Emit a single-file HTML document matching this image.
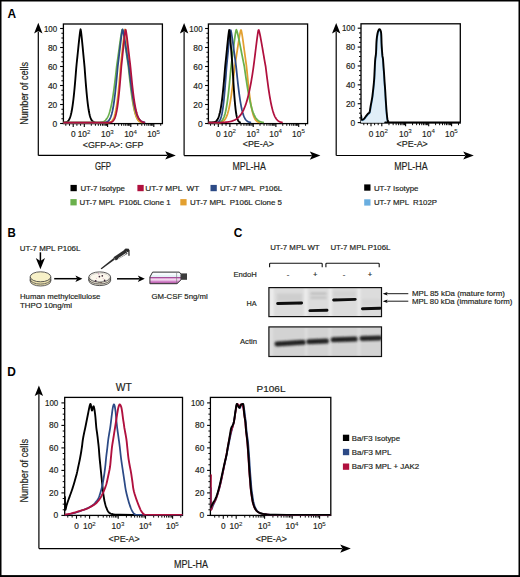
<!DOCTYPE html>
<html><head><meta charset="utf-8"><style>html,body{margin:0;padding:0;background:#fff;width:520px;height:577px;overflow:hidden}svg text{font-family:"Liberation Sans", sans-serif}</style></head><body>
<svg width="520" height="577" viewBox="0 0 520 577" style="display:block">
<g font-family='"Liberation Sans", sans-serif'>
<rect x="0.00" y="0.00" width="520.00" height="577.00" fill="#fff" stroke="none" stroke-width="1"/>
<text x="7.40" y="17.70" font-size="12" text-anchor="start" font-weight="bold" fill="#000" textLength="8.60" lengthAdjust="spacingAndGlyphs" xml:space="preserve">A</text>
<line x1="38.30" y1="31.40" x2="38.30" y2="155.40" stroke="#000" stroke-width="1.2"/>
<polygon points="38.30,22.80 42.50,33.40 38.30,31.10 34.10,33.40" fill="#000" stroke="none" stroke-width="1"/>
<line x1="38.30" y1="155.40" x2="167.20" y2="155.40" stroke="#000" stroke-width="1.2"/>
<polygon points="175.80,155.40 165.20,151.30 167.50,155.40 165.20,159.50" fill="#000" stroke="none" stroke-width="1"/>
<rect x="63.40" y="24.00" width="99.00" height="99.60" fill="#fff" stroke="#000" stroke-width="1.3"/>
<line x1="60.10" y1="123.50" x2="63.40" y2="123.50" stroke="#000" stroke-width="1.1"/>
<text x="57.20" y="126.55" font-size="8.4" text-anchor="end" fill="#231f20" stroke="#231f20" stroke-width="0.18" textLength="4.70" lengthAdjust="spacingAndGlyphs" xml:space="preserve">0</text>
<line x1="61.40" y1="118.75" x2="63.40" y2="118.75" stroke="#000" stroke-width="1.0"/>
<line x1="61.40" y1="114.00" x2="63.40" y2="114.00" stroke="#000" stroke-width="1.0"/>
<line x1="61.40" y1="109.25" x2="63.40" y2="109.25" stroke="#000" stroke-width="1.0"/>
<line x1="60.10" y1="104.50" x2="63.40" y2="104.50" stroke="#000" stroke-width="1.1"/>
<text x="57.20" y="107.55" font-size="8.4" text-anchor="end" fill="#231f20" stroke="#231f20" stroke-width="0.18" textLength="9.30" lengthAdjust="spacingAndGlyphs" xml:space="preserve">20</text>
<line x1="61.40" y1="99.75" x2="63.40" y2="99.75" stroke="#000" stroke-width="1.0"/>
<line x1="61.40" y1="95.00" x2="63.40" y2="95.00" stroke="#000" stroke-width="1.0"/>
<line x1="61.40" y1="90.25" x2="63.40" y2="90.25" stroke="#000" stroke-width="1.0"/>
<line x1="60.10" y1="85.50" x2="63.40" y2="85.50" stroke="#000" stroke-width="1.1"/>
<text x="57.20" y="88.55" font-size="8.4" text-anchor="end" fill="#231f20" stroke="#231f20" stroke-width="0.18" textLength="9.30" lengthAdjust="spacingAndGlyphs" xml:space="preserve">40</text>
<line x1="61.40" y1="80.75" x2="63.40" y2="80.75" stroke="#000" stroke-width="1.0"/>
<line x1="61.40" y1="76.00" x2="63.40" y2="76.00" stroke="#000" stroke-width="1.0"/>
<line x1="61.40" y1="71.25" x2="63.40" y2="71.25" stroke="#000" stroke-width="1.0"/>
<line x1="60.10" y1="66.50" x2="63.40" y2="66.50" stroke="#000" stroke-width="1.1"/>
<text x="57.20" y="69.55" font-size="8.4" text-anchor="end" fill="#231f20" stroke="#231f20" stroke-width="0.18" textLength="9.30" lengthAdjust="spacingAndGlyphs" xml:space="preserve">60</text>
<line x1="61.40" y1="61.75" x2="63.40" y2="61.75" stroke="#000" stroke-width="1.0"/>
<line x1="61.40" y1="57.00" x2="63.40" y2="57.00" stroke="#000" stroke-width="1.0"/>
<line x1="61.40" y1="52.25" x2="63.40" y2="52.25" stroke="#000" stroke-width="1.0"/>
<line x1="60.10" y1="47.50" x2="63.40" y2="47.50" stroke="#000" stroke-width="1.1"/>
<text x="57.20" y="50.55" font-size="8.4" text-anchor="end" fill="#231f20" stroke="#231f20" stroke-width="0.18" textLength="9.30" lengthAdjust="spacingAndGlyphs" xml:space="preserve">80</text>
<line x1="61.40" y1="42.75" x2="63.40" y2="42.75" stroke="#000" stroke-width="1.0"/>
<line x1="61.40" y1="38.00" x2="63.40" y2="38.00" stroke="#000" stroke-width="1.0"/>
<line x1="61.40" y1="33.25" x2="63.40" y2="33.25" stroke="#000" stroke-width="1.0"/>
<line x1="60.10" y1="28.50" x2="63.40" y2="28.50" stroke="#000" stroke-width="1.1"/>
<text x="57.20" y="31.55" font-size="8.4" text-anchor="end" fill="#231f20" stroke="#231f20" stroke-width="0.18" textLength="13.30" lengthAdjust="spacingAndGlyphs" xml:space="preserve">100</text>
<line x1="73.20" y1="123.60" x2="73.20" y2="126.90" stroke="#000" stroke-width="1.1"/>
<line x1="69.50" y1="123.60" x2="69.50" y2="125.80" stroke="#000" stroke-width="0.95"/>
<line x1="65.80" y1="123.60" x2="65.80" y2="125.80" stroke="#000" stroke-width="0.95"/>
<line x1="76.90" y1="123.60" x2="76.90" y2="125.80" stroke="#000" stroke-width="0.95"/>
<line x1="80.60" y1="123.60" x2="80.60" y2="125.80" stroke="#000" stroke-width="0.95"/>
<line x1="84.30" y1="123.60" x2="84.30" y2="126.90" stroke="#000" stroke-width="1.1"/>
<line x1="91.31" y1="123.60" x2="91.31" y2="125.80" stroke="#000" stroke-width="0.95"/>
<line x1="95.42" y1="123.60" x2="95.42" y2="125.80" stroke="#000" stroke-width="0.95"/>
<line x1="98.33" y1="123.60" x2="98.33" y2="125.80" stroke="#000" stroke-width="0.95"/>
<line x1="100.59" y1="123.60" x2="100.59" y2="125.80" stroke="#000" stroke-width="0.95"/>
<line x1="102.43" y1="123.60" x2="102.43" y2="125.80" stroke="#000" stroke-width="0.95"/>
<line x1="103.99" y1="123.60" x2="103.99" y2="125.80" stroke="#000" stroke-width="0.95"/>
<line x1="105.34" y1="123.60" x2="105.34" y2="125.80" stroke="#000" stroke-width="0.95"/>
<line x1="106.53" y1="123.60" x2="106.53" y2="125.80" stroke="#000" stroke-width="0.95"/>
<line x1="107.60" y1="123.60" x2="107.60" y2="126.90" stroke="#000" stroke-width="1.1"/>
<line x1="114.58" y1="123.60" x2="114.58" y2="125.80" stroke="#000" stroke-width="0.95"/>
<line x1="118.67" y1="123.60" x2="118.67" y2="125.80" stroke="#000" stroke-width="0.95"/>
<line x1="121.57" y1="123.60" x2="121.57" y2="125.80" stroke="#000" stroke-width="0.95"/>
<line x1="123.82" y1="123.60" x2="123.82" y2="125.80" stroke="#000" stroke-width="0.95"/>
<line x1="125.65" y1="123.60" x2="125.65" y2="125.80" stroke="#000" stroke-width="0.95"/>
<line x1="127.21" y1="123.60" x2="127.21" y2="125.80" stroke="#000" stroke-width="0.95"/>
<line x1="128.55" y1="123.60" x2="128.55" y2="125.80" stroke="#000" stroke-width="0.95"/>
<line x1="129.74" y1="123.60" x2="129.74" y2="125.80" stroke="#000" stroke-width="0.95"/>
<line x1="130.80" y1="123.60" x2="130.80" y2="126.90" stroke="#000" stroke-width="1.1"/>
<line x1="137.72" y1="123.60" x2="137.72" y2="125.80" stroke="#000" stroke-width="0.95"/>
<line x1="141.77" y1="123.60" x2="141.77" y2="125.80" stroke="#000" stroke-width="0.95"/>
<line x1="144.65" y1="123.60" x2="144.65" y2="125.80" stroke="#000" stroke-width="0.95"/>
<line x1="146.88" y1="123.60" x2="146.88" y2="125.80" stroke="#000" stroke-width="0.95"/>
<line x1="148.70" y1="123.60" x2="148.70" y2="125.80" stroke="#000" stroke-width="0.95"/>
<line x1="150.24" y1="123.60" x2="150.24" y2="125.80" stroke="#000" stroke-width="0.95"/>
<line x1="151.57" y1="123.60" x2="151.57" y2="125.80" stroke="#000" stroke-width="0.95"/>
<line x1="152.75" y1="123.60" x2="152.75" y2="125.80" stroke="#000" stroke-width="0.95"/>
<line x1="153.80" y1="123.60" x2="153.80" y2="126.90" stroke="#000" stroke-width="1.1"/>
<line x1="160.72" y1="123.60" x2="160.72" y2="125.80" stroke="#000" stroke-width="0.95"/>
<text x="73.20" y="136.80" font-size="8.3" text-anchor="middle" fill="#231f20" stroke="#231f20" stroke-width="0.18" textLength="4.60" lengthAdjust="spacingAndGlyphs" xml:space="preserve">0</text>
<text x="77.70" y="136.80" font-size="8.3" text-anchor="start" fill="#231f20" stroke="#231f20" stroke-width="0.18" textLength="9.30" lengthAdjust="spacingAndGlyphs" xml:space="preserve">10</text>
<text x="87.00" y="133.50" font-size="5.4" text-anchor="start" fill="#231f20" stroke="#231f20" stroke-width="0.08" textLength="3.40" lengthAdjust="spacingAndGlyphs" xml:space="preserve">2</text>
<text x="101.00" y="136.80" font-size="8.3" text-anchor="start" fill="#231f20" stroke="#231f20" stroke-width="0.18" textLength="9.30" lengthAdjust="spacingAndGlyphs" xml:space="preserve">10</text>
<text x="110.30" y="133.50" font-size="5.4" text-anchor="start" fill="#231f20" stroke="#231f20" stroke-width="0.08" textLength="3.40" lengthAdjust="spacingAndGlyphs" xml:space="preserve">3</text>
<text x="124.20" y="136.80" font-size="8.3" text-anchor="start" fill="#231f20" stroke="#231f20" stroke-width="0.18" textLength="9.30" lengthAdjust="spacingAndGlyphs" xml:space="preserve">10</text>
<text x="133.50" y="133.50" font-size="5.4" text-anchor="start" fill="#231f20" stroke="#231f20" stroke-width="0.08" textLength="3.40" lengthAdjust="spacingAndGlyphs" xml:space="preserve">4</text>
<text x="147.20" y="136.80" font-size="8.3" text-anchor="start" fill="#231f20" stroke="#231f20" stroke-width="0.18" textLength="9.30" lengthAdjust="spacingAndGlyphs" xml:space="preserve">10</text>
<text x="156.50" y="133.50" font-size="5.4" text-anchor="start" fill="#231f20" stroke="#231f20" stroke-width="0.08" textLength="3.40" lengthAdjust="spacingAndGlyphs" xml:space="preserve">5</text>
<text x="0.00" y="0.00" font-size="10.2" text-anchor="middle" fill="#231f20" stroke="#231f20" stroke-width="0.18" textLength="62.80" lengthAdjust="spacingAndGlyphs" transform="translate(27.9,93.4) rotate(-90)" xml:space="preserve">Number of cells</text>
<text x="82.80" y="147.60" font-size="8.3" text-anchor="start" fill="#231f20" stroke="#231f20" stroke-width="0.18" textLength="60.60" lengthAdjust="spacingAndGlyphs" xml:space="preserve">&lt;GFP-A&gt;: GFP</text>
<text x="94.90" y="169.90" font-size="10.4" text-anchor="start" fill="#231f20" stroke="#231f20" stroke-width="0.18" textLength="16.20" lengthAdjust="spacingAndGlyphs" xml:space="preserve">GFP</text>
<line x1="184.10" y1="31.60" x2="184.10" y2="155.60" stroke="#000" stroke-width="1.2"/>
<polygon points="184.10,23.00 188.30,33.60 184.10,31.30 179.90,33.60" fill="#000" stroke="none" stroke-width="1"/>
<line x1="184.10" y1="155.60" x2="311.80" y2="155.60" stroke="#000" stroke-width="1.2"/>
<polygon points="320.40,155.60 309.80,151.50 312.10,155.60 309.80,159.70" fill="#000" stroke="none" stroke-width="1"/>
<rect x="208.40" y="24.00" width="99.20" height="99.60" fill="#fff" stroke="#000" stroke-width="1.3"/>
<line x1="205.10" y1="123.50" x2="208.40" y2="123.50" stroke="#000" stroke-width="1.1"/>
<text x="202.60" y="126.55" font-size="8.4" text-anchor="end" fill="#231f20" stroke="#231f20" stroke-width="0.18" textLength="4.70" lengthAdjust="spacingAndGlyphs" xml:space="preserve">0</text>
<line x1="206.40" y1="118.75" x2="208.40" y2="118.75" stroke="#000" stroke-width="1.0"/>
<line x1="206.40" y1="114.00" x2="208.40" y2="114.00" stroke="#000" stroke-width="1.0"/>
<line x1="206.40" y1="109.25" x2="208.40" y2="109.25" stroke="#000" stroke-width="1.0"/>
<line x1="205.10" y1="104.50" x2="208.40" y2="104.50" stroke="#000" stroke-width="1.1"/>
<text x="202.60" y="107.55" font-size="8.4" text-anchor="end" fill="#231f20" stroke="#231f20" stroke-width="0.18" textLength="9.30" lengthAdjust="spacingAndGlyphs" xml:space="preserve">20</text>
<line x1="206.40" y1="99.75" x2="208.40" y2="99.75" stroke="#000" stroke-width="1.0"/>
<line x1="206.40" y1="95.00" x2="208.40" y2="95.00" stroke="#000" stroke-width="1.0"/>
<line x1="206.40" y1="90.25" x2="208.40" y2="90.25" stroke="#000" stroke-width="1.0"/>
<line x1="205.10" y1="85.50" x2="208.40" y2="85.50" stroke="#000" stroke-width="1.1"/>
<text x="202.60" y="88.55" font-size="8.4" text-anchor="end" fill="#231f20" stroke="#231f20" stroke-width="0.18" textLength="9.30" lengthAdjust="spacingAndGlyphs" xml:space="preserve">40</text>
<line x1="206.40" y1="80.75" x2="208.40" y2="80.75" stroke="#000" stroke-width="1.0"/>
<line x1="206.40" y1="76.00" x2="208.40" y2="76.00" stroke="#000" stroke-width="1.0"/>
<line x1="206.40" y1="71.25" x2="208.40" y2="71.25" stroke="#000" stroke-width="1.0"/>
<line x1="205.10" y1="66.50" x2="208.40" y2="66.50" stroke="#000" stroke-width="1.1"/>
<text x="202.60" y="69.55" font-size="8.4" text-anchor="end" fill="#231f20" stroke="#231f20" stroke-width="0.18" textLength="9.30" lengthAdjust="spacingAndGlyphs" xml:space="preserve">60</text>
<line x1="206.40" y1="61.75" x2="208.40" y2="61.75" stroke="#000" stroke-width="1.0"/>
<line x1="206.40" y1="57.00" x2="208.40" y2="57.00" stroke="#000" stroke-width="1.0"/>
<line x1="206.40" y1="52.25" x2="208.40" y2="52.25" stroke="#000" stroke-width="1.0"/>
<line x1="205.10" y1="47.50" x2="208.40" y2="47.50" stroke="#000" stroke-width="1.1"/>
<text x="202.60" y="50.55" font-size="8.4" text-anchor="end" fill="#231f20" stroke="#231f20" stroke-width="0.18" textLength="9.30" lengthAdjust="spacingAndGlyphs" xml:space="preserve">80</text>
<line x1="206.40" y1="42.75" x2="208.40" y2="42.75" stroke="#000" stroke-width="1.0"/>
<line x1="206.40" y1="38.00" x2="208.40" y2="38.00" stroke="#000" stroke-width="1.0"/>
<line x1="206.40" y1="33.25" x2="208.40" y2="33.25" stroke="#000" stroke-width="1.0"/>
<line x1="205.10" y1="28.50" x2="208.40" y2="28.50" stroke="#000" stroke-width="1.1"/>
<text x="202.60" y="31.55" font-size="8.4" text-anchor="end" fill="#231f20" stroke="#231f20" stroke-width="0.18" textLength="13.30" lengthAdjust="spacingAndGlyphs" xml:space="preserve">100</text>
<line x1="218.30" y1="123.60" x2="218.30" y2="126.90" stroke="#000" stroke-width="1.1"/>
<line x1="214.43" y1="123.60" x2="214.43" y2="125.80" stroke="#000" stroke-width="0.95"/>
<line x1="210.57" y1="123.60" x2="210.57" y2="125.80" stroke="#000" stroke-width="0.95"/>
<line x1="222.17" y1="123.60" x2="222.17" y2="125.80" stroke="#000" stroke-width="0.95"/>
<line x1="226.03" y1="123.60" x2="226.03" y2="125.80" stroke="#000" stroke-width="0.95"/>
<line x1="229.90" y1="123.60" x2="229.90" y2="126.90" stroke="#000" stroke-width="1.1"/>
<line x1="236.91" y1="123.60" x2="236.91" y2="125.80" stroke="#000" stroke-width="0.95"/>
<line x1="241.02" y1="123.60" x2="241.02" y2="125.80" stroke="#000" stroke-width="0.95"/>
<line x1="243.93" y1="123.60" x2="243.93" y2="125.80" stroke="#000" stroke-width="0.95"/>
<line x1="246.19" y1="123.60" x2="246.19" y2="125.80" stroke="#000" stroke-width="0.95"/>
<line x1="248.03" y1="123.60" x2="248.03" y2="125.80" stroke="#000" stroke-width="0.95"/>
<line x1="249.59" y1="123.60" x2="249.59" y2="125.80" stroke="#000" stroke-width="0.95"/>
<line x1="250.94" y1="123.60" x2="250.94" y2="125.80" stroke="#000" stroke-width="0.95"/>
<line x1="252.13" y1="123.60" x2="252.13" y2="125.80" stroke="#000" stroke-width="0.95"/>
<line x1="253.20" y1="123.60" x2="253.20" y2="126.90" stroke="#000" stroke-width="1.1"/>
<line x1="260.03" y1="123.60" x2="260.03" y2="125.80" stroke="#000" stroke-width="0.95"/>
<line x1="264.03" y1="123.60" x2="264.03" y2="125.80" stroke="#000" stroke-width="0.95"/>
<line x1="266.87" y1="123.60" x2="266.87" y2="125.80" stroke="#000" stroke-width="0.95"/>
<line x1="269.07" y1="123.60" x2="269.07" y2="125.80" stroke="#000" stroke-width="0.95"/>
<line x1="270.86" y1="123.60" x2="270.86" y2="125.80" stroke="#000" stroke-width="0.95"/>
<line x1="272.38" y1="123.60" x2="272.38" y2="125.80" stroke="#000" stroke-width="0.95"/>
<line x1="273.70" y1="123.60" x2="273.70" y2="125.80" stroke="#000" stroke-width="0.95"/>
<line x1="274.86" y1="123.60" x2="274.86" y2="125.80" stroke="#000" stroke-width="0.95"/>
<line x1="275.90" y1="123.60" x2="275.90" y2="126.90" stroke="#000" stroke-width="1.1"/>
<line x1="282.76" y1="123.60" x2="282.76" y2="125.80" stroke="#000" stroke-width="0.95"/>
<line x1="286.78" y1="123.60" x2="286.78" y2="125.80" stroke="#000" stroke-width="0.95"/>
<line x1="289.63" y1="123.60" x2="289.63" y2="125.80" stroke="#000" stroke-width="0.95"/>
<line x1="291.84" y1="123.60" x2="291.84" y2="125.80" stroke="#000" stroke-width="0.95"/>
<line x1="293.64" y1="123.60" x2="293.64" y2="125.80" stroke="#000" stroke-width="0.95"/>
<line x1="295.17" y1="123.60" x2="295.17" y2="125.80" stroke="#000" stroke-width="0.95"/>
<line x1="296.49" y1="123.60" x2="296.49" y2="125.80" stroke="#000" stroke-width="0.95"/>
<line x1="297.66" y1="123.60" x2="297.66" y2="125.80" stroke="#000" stroke-width="0.95"/>
<line x1="298.70" y1="123.60" x2="298.70" y2="126.90" stroke="#000" stroke-width="1.1"/>
<line x1="305.56" y1="123.60" x2="305.56" y2="125.80" stroke="#000" stroke-width="0.95"/>
<text x="218.30" y="136.60" font-size="8.3" text-anchor="middle" fill="#231f20" stroke="#231f20" stroke-width="0.18" textLength="4.60" lengthAdjust="spacingAndGlyphs" xml:space="preserve">0</text>
<text x="223.30" y="136.60" font-size="8.3" text-anchor="start" fill="#231f20" stroke="#231f20" stroke-width="0.18" textLength="9.30" lengthAdjust="spacingAndGlyphs" xml:space="preserve">10</text>
<text x="232.60" y="133.30" font-size="5.4" text-anchor="start" fill="#231f20" stroke="#231f20" stroke-width="0.08" textLength="3.40" lengthAdjust="spacingAndGlyphs" xml:space="preserve">2</text>
<text x="246.60" y="136.60" font-size="8.3" text-anchor="start" fill="#231f20" stroke="#231f20" stroke-width="0.18" textLength="9.30" lengthAdjust="spacingAndGlyphs" xml:space="preserve">10</text>
<text x="255.90" y="133.30" font-size="5.4" text-anchor="start" fill="#231f20" stroke="#231f20" stroke-width="0.08" textLength="3.40" lengthAdjust="spacingAndGlyphs" xml:space="preserve">3</text>
<text x="269.30" y="136.60" font-size="8.3" text-anchor="start" fill="#231f20" stroke="#231f20" stroke-width="0.18" textLength="9.30" lengthAdjust="spacingAndGlyphs" xml:space="preserve">10</text>
<text x="278.60" y="133.30" font-size="5.4" text-anchor="start" fill="#231f20" stroke="#231f20" stroke-width="0.08" textLength="3.40" lengthAdjust="spacingAndGlyphs" xml:space="preserve">4</text>
<text x="292.10" y="136.60" font-size="8.3" text-anchor="start" fill="#231f20" stroke="#231f20" stroke-width="0.18" textLength="9.30" lengthAdjust="spacingAndGlyphs" xml:space="preserve">10</text>
<text x="301.40" y="133.30" font-size="5.4" text-anchor="start" fill="#231f20" stroke="#231f20" stroke-width="0.08" textLength="3.40" lengthAdjust="spacingAndGlyphs" xml:space="preserve">5</text>
<text x="242.70" y="147.40" font-size="8.3" text-anchor="start" fill="#231f20" stroke="#231f20" stroke-width="0.18" textLength="31.20" lengthAdjust="spacingAndGlyphs" xml:space="preserve">&lt;PE-A&gt;</text>
<text x="232.40" y="170.20" font-size="10.4" text-anchor="start" fill="#231f20" stroke="#231f20" stroke-width="0.18" textLength="33.40" lengthAdjust="spacingAndGlyphs" xml:space="preserve">MPL-HA</text>
<line x1="336.20" y1="31.60" x2="336.20" y2="155.50" stroke="#000" stroke-width="1.2"/>
<polygon points="336.20,23.00 340.40,33.60 336.20,31.30 332.00,33.60" fill="#000" stroke="none" stroke-width="1"/>
<line x1="336.20" y1="155.50" x2="465.20" y2="155.50" stroke="#000" stroke-width="1.2"/>
<polygon points="473.80,155.50 463.20,151.40 465.50,155.50 463.20,159.60" fill="#000" stroke="none" stroke-width="1"/>
<rect x="361.00" y="23.80" width="99.30" height="99.20" fill="#fff" stroke="#000" stroke-width="1.3"/>
<line x1="357.70" y1="122.60" x2="361.00" y2="122.60" stroke="#000" stroke-width="1.1"/>
<text x="355.20" y="125.65" font-size="8.4" text-anchor="end" fill="#231f20" stroke="#231f20" stroke-width="0.18" textLength="4.70" lengthAdjust="spacingAndGlyphs" xml:space="preserve">0</text>
<line x1="359.00" y1="117.88" x2="361.00" y2="117.88" stroke="#000" stroke-width="1.0"/>
<line x1="359.00" y1="113.16" x2="361.00" y2="113.16" stroke="#000" stroke-width="1.0"/>
<line x1="359.00" y1="108.44" x2="361.00" y2="108.44" stroke="#000" stroke-width="1.0"/>
<line x1="357.70" y1="103.72" x2="361.00" y2="103.72" stroke="#000" stroke-width="1.1"/>
<text x="355.20" y="106.77" font-size="8.4" text-anchor="end" fill="#231f20" stroke="#231f20" stroke-width="0.18" textLength="9.30" lengthAdjust="spacingAndGlyphs" xml:space="preserve">20</text>
<line x1="359.00" y1="99.00" x2="361.00" y2="99.00" stroke="#000" stroke-width="1.0"/>
<line x1="359.00" y1="94.28" x2="361.00" y2="94.28" stroke="#000" stroke-width="1.0"/>
<line x1="359.00" y1="89.56" x2="361.00" y2="89.56" stroke="#000" stroke-width="1.0"/>
<line x1="357.70" y1="84.84" x2="361.00" y2="84.84" stroke="#000" stroke-width="1.1"/>
<text x="355.20" y="87.89" font-size="8.4" text-anchor="end" fill="#231f20" stroke="#231f20" stroke-width="0.18" textLength="9.30" lengthAdjust="spacingAndGlyphs" xml:space="preserve">40</text>
<line x1="359.00" y1="80.12" x2="361.00" y2="80.12" stroke="#000" stroke-width="1.0"/>
<line x1="359.00" y1="75.40" x2="361.00" y2="75.40" stroke="#000" stroke-width="1.0"/>
<line x1="359.00" y1="70.68" x2="361.00" y2="70.68" stroke="#000" stroke-width="1.0"/>
<line x1="357.70" y1="65.96" x2="361.00" y2="65.96" stroke="#000" stroke-width="1.1"/>
<text x="355.20" y="69.01" font-size="8.4" text-anchor="end" fill="#231f20" stroke="#231f20" stroke-width="0.18" textLength="9.30" lengthAdjust="spacingAndGlyphs" xml:space="preserve">60</text>
<line x1="359.00" y1="61.24" x2="361.00" y2="61.24" stroke="#000" stroke-width="1.0"/>
<line x1="359.00" y1="56.52" x2="361.00" y2="56.52" stroke="#000" stroke-width="1.0"/>
<line x1="359.00" y1="51.80" x2="361.00" y2="51.80" stroke="#000" stroke-width="1.0"/>
<line x1="357.70" y1="47.08" x2="361.00" y2="47.08" stroke="#000" stroke-width="1.1"/>
<text x="355.20" y="50.13" font-size="8.4" text-anchor="end" fill="#231f20" stroke="#231f20" stroke-width="0.18" textLength="9.30" lengthAdjust="spacingAndGlyphs" xml:space="preserve">80</text>
<line x1="359.00" y1="42.36" x2="361.00" y2="42.36" stroke="#000" stroke-width="1.0"/>
<line x1="359.00" y1="37.64" x2="361.00" y2="37.64" stroke="#000" stroke-width="1.0"/>
<line x1="359.00" y1="32.92" x2="361.00" y2="32.92" stroke="#000" stroke-width="1.0"/>
<line x1="357.70" y1="28.20" x2="361.00" y2="28.20" stroke="#000" stroke-width="1.1"/>
<text x="355.20" y="31.25" font-size="8.4" text-anchor="end" fill="#231f20" stroke="#231f20" stroke-width="0.18" textLength="13.30" lengthAdjust="spacingAndGlyphs" xml:space="preserve">100</text>
<line x1="371.00" y1="123.00" x2="371.00" y2="126.30" stroke="#000" stroke-width="1.1"/>
<line x1="367.40" y1="123.00" x2="367.40" y2="125.20" stroke="#000" stroke-width="0.95"/>
<line x1="363.80" y1="123.00" x2="363.80" y2="125.20" stroke="#000" stroke-width="0.95"/>
<line x1="374.60" y1="123.00" x2="374.60" y2="125.20" stroke="#000" stroke-width="0.95"/>
<line x1="378.20" y1="123.00" x2="378.20" y2="125.20" stroke="#000" stroke-width="0.95"/>
<line x1="381.80" y1="123.00" x2="381.80" y2="126.30" stroke="#000" stroke-width="1.1"/>
<line x1="388.96" y1="123.00" x2="388.96" y2="125.20" stroke="#000" stroke-width="0.95"/>
<line x1="393.16" y1="123.00" x2="393.16" y2="125.20" stroke="#000" stroke-width="0.95"/>
<line x1="396.13" y1="123.00" x2="396.13" y2="125.20" stroke="#000" stroke-width="0.95"/>
<line x1="398.44" y1="123.00" x2="398.44" y2="125.20" stroke="#000" stroke-width="0.95"/>
<line x1="400.32" y1="123.00" x2="400.32" y2="125.20" stroke="#000" stroke-width="0.95"/>
<line x1="401.91" y1="123.00" x2="401.91" y2="125.20" stroke="#000" stroke-width="0.95"/>
<line x1="403.29" y1="123.00" x2="403.29" y2="125.20" stroke="#000" stroke-width="0.95"/>
<line x1="404.51" y1="123.00" x2="404.51" y2="125.20" stroke="#000" stroke-width="0.95"/>
<line x1="405.60" y1="123.00" x2="405.60" y2="126.30" stroke="#000" stroke-width="1.1"/>
<line x1="412.55" y1="123.00" x2="412.55" y2="125.20" stroke="#000" stroke-width="0.95"/>
<line x1="416.62" y1="123.00" x2="416.62" y2="125.20" stroke="#000" stroke-width="0.95"/>
<line x1="419.51" y1="123.00" x2="419.51" y2="125.20" stroke="#000" stroke-width="0.95"/>
<line x1="421.75" y1="123.00" x2="421.75" y2="125.20" stroke="#000" stroke-width="0.95"/>
<line x1="423.58" y1="123.00" x2="423.58" y2="125.20" stroke="#000" stroke-width="0.95"/>
<line x1="425.12" y1="123.00" x2="425.12" y2="125.20" stroke="#000" stroke-width="0.95"/>
<line x1="426.46" y1="123.00" x2="426.46" y2="125.20" stroke="#000" stroke-width="0.95"/>
<line x1="427.64" y1="123.00" x2="427.64" y2="125.20" stroke="#000" stroke-width="0.95"/>
<line x1="428.70" y1="123.00" x2="428.70" y2="126.30" stroke="#000" stroke-width="1.1"/>
<line x1="435.59" y1="123.00" x2="435.59" y2="125.20" stroke="#000" stroke-width="0.95"/>
<line x1="439.63" y1="123.00" x2="439.63" y2="125.20" stroke="#000" stroke-width="0.95"/>
<line x1="442.49" y1="123.00" x2="442.49" y2="125.20" stroke="#000" stroke-width="0.95"/>
<line x1="444.71" y1="123.00" x2="444.71" y2="125.20" stroke="#000" stroke-width="0.95"/>
<line x1="446.52" y1="123.00" x2="446.52" y2="125.20" stroke="#000" stroke-width="0.95"/>
<line x1="448.05" y1="123.00" x2="448.05" y2="125.20" stroke="#000" stroke-width="0.95"/>
<line x1="449.38" y1="123.00" x2="449.38" y2="125.20" stroke="#000" stroke-width="0.95"/>
<line x1="450.55" y1="123.00" x2="450.55" y2="125.20" stroke="#000" stroke-width="0.95"/>
<line x1="451.60" y1="123.00" x2="451.60" y2="126.30" stroke="#000" stroke-width="1.1"/>
<line x1="458.49" y1="123.00" x2="458.49" y2="125.20" stroke="#000" stroke-width="0.95"/>
<text x="371.00" y="136.60" font-size="8.3" text-anchor="middle" fill="#231f20" stroke="#231f20" stroke-width="0.18" textLength="4.60" lengthAdjust="spacingAndGlyphs" xml:space="preserve">0</text>
<text x="375.20" y="136.60" font-size="8.3" text-anchor="start" fill="#231f20" stroke="#231f20" stroke-width="0.18" textLength="9.30" lengthAdjust="spacingAndGlyphs" xml:space="preserve">10</text>
<text x="384.50" y="133.30" font-size="5.4" text-anchor="start" fill="#231f20" stroke="#231f20" stroke-width="0.08" textLength="3.40" lengthAdjust="spacingAndGlyphs" xml:space="preserve">2</text>
<text x="399.00" y="136.60" font-size="8.3" text-anchor="start" fill="#231f20" stroke="#231f20" stroke-width="0.18" textLength="9.30" lengthAdjust="spacingAndGlyphs" xml:space="preserve">10</text>
<text x="408.30" y="133.30" font-size="5.4" text-anchor="start" fill="#231f20" stroke="#231f20" stroke-width="0.08" textLength="3.40" lengthAdjust="spacingAndGlyphs" xml:space="preserve">3</text>
<text x="422.10" y="136.60" font-size="8.3" text-anchor="start" fill="#231f20" stroke="#231f20" stroke-width="0.18" textLength="9.30" lengthAdjust="spacingAndGlyphs" xml:space="preserve">10</text>
<text x="431.40" y="133.30" font-size="5.4" text-anchor="start" fill="#231f20" stroke="#231f20" stroke-width="0.08" textLength="3.40" lengthAdjust="spacingAndGlyphs" xml:space="preserve">4</text>
<text x="445.00" y="136.60" font-size="8.3" text-anchor="start" fill="#231f20" stroke="#231f20" stroke-width="0.18" textLength="9.30" lengthAdjust="spacingAndGlyphs" xml:space="preserve">10</text>
<text x="454.30" y="133.30" font-size="5.4" text-anchor="start" fill="#231f20" stroke="#231f20" stroke-width="0.08" textLength="3.40" lengthAdjust="spacingAndGlyphs" xml:space="preserve">5</text>
<text x="396.60" y="147.40" font-size="8.3" text-anchor="start" fill="#231f20" stroke="#231f20" stroke-width="0.18" textLength="31.20" lengthAdjust="spacingAndGlyphs" xml:space="preserve">&lt;PE-A&gt;</text>
<text x="394.20" y="170.20" font-size="10.4" text-anchor="start" fill="#231f20" stroke="#231f20" stroke-width="0.18" textLength="33.40" lengthAdjust="spacingAndGlyphs" xml:space="preserve">MPL-HA</text>
<rect x="70.50" y="184.90" width="6.30" height="6.30" fill="#000" stroke="none" stroke-width="1"/>
<text x="80.40" y="190.90" font-size="7.85" text-anchor="start" fill="#231f20" stroke="#231f20" stroke-width="0.18" textLength="44.60" lengthAdjust="spacingAndGlyphs" xml:space="preserve">UT-7 Isotype</text>
<rect x="137.40" y="184.90" width="6.30" height="6.30" fill="#b0103e" stroke="none" stroke-width="1"/>
<text x="145.30" y="190.90" font-size="7.85" text-anchor="start" fill="#231f20" stroke="#231f20" stroke-width="0.18" textLength="53.90" lengthAdjust="spacingAndGlyphs" xml:space="preserve">UT-7 MPL  WT</text>
<rect x="210.50" y="184.90" width="6.30" height="6.30" fill="#2c4a86" stroke="none" stroke-width="1"/>
<text x="219.90" y="190.90" font-size="7.85" text-anchor="start" fill="#231f20" stroke="#231f20" stroke-width="0.18" textLength="62.30" lengthAdjust="spacingAndGlyphs" xml:space="preserve">UT-7 MPL  P106L</text>
<rect x="70.40" y="199.10" width="6.30" height="6.30" fill="#6ab04c" stroke="none" stroke-width="1"/>
<text x="79.50" y="205.10" font-size="7.85" text-anchor="start" fill="#231f20" stroke="#231f20" stroke-width="0.18" textLength="91.10" lengthAdjust="spacingAndGlyphs" xml:space="preserve">UT-7 MPL  P106L Clone 1</text>
<rect x="180.30" y="199.10" width="6.30" height="6.30" fill="#e3a030" stroke="none" stroke-width="1"/>
<text x="190.00" y="205.10" font-size="7.85" text-anchor="start" fill="#231f20" stroke="#231f20" stroke-width="0.18" textLength="92.00" lengthAdjust="spacingAndGlyphs" xml:space="preserve">UT-7 MPL  P106L Clone 5</text>
<rect x="364.20" y="184.40" width="6.30" height="6.30" fill="#000" stroke="none" stroke-width="1"/>
<text x="373.90" y="190.60" font-size="7.85" text-anchor="start" fill="#231f20" stroke="#231f20" stroke-width="0.18" textLength="44.60" lengthAdjust="spacingAndGlyphs" xml:space="preserve">UT-7 Isotype</text>
<rect x="364.20" y="199.30" width="6.30" height="6.30" fill="#6aaee0" stroke="none" stroke-width="1"/>
<text x="373.90" y="205.30" font-size="7.85" text-anchor="start" fill="#231f20" stroke="#231f20" stroke-width="0.18" textLength="63.10" lengthAdjust="spacingAndGlyphs" xml:space="preserve">UT-7 MPL  R102P</text>
<clipPath id="cA1"><rect x="63.4" y="24.5" width="99.0" height="99.7"/></clipPath>
<g clip-path="url(#cA1)">
<path d="M63.40,122.64 L63.80,122.61 L64.20,122.58 L64.60,122.54 L65.00,122.48 L65.40,122.41 L65.80,122.31 L66.20,122.18 L66.60,122.02 L67.00,121.82 L67.40,121.56 L67.80,121.23 L68.20,120.83 L68.60,120.33 L69.00,119.72 L69.40,118.98 L69.80,118.09 L70.20,117.02 L70.60,115.76 L71.00,114.27 L71.40,112.54 L71.80,110.54 L72.20,108.25 L72.60,105.65 L73.00,102.74 L73.40,99.49 L73.80,95.91 L74.20,92.01 L74.60,87.81 L75.00,83.32 L75.40,78.59 L75.80,73.67 L76.20,68.61 L76.60,64.22 L77.00,60.47 L77.40,56.64 L77.80,52.76 L78.20,48.85 L78.60,44.97 L79.00,41.17 L79.40,37.52 L79.80,34.15 L80.20,31.23 L80.60,29.30 L81.00,31.43 L81.40,34.64 L81.80,38.34 L82.20,42.32 L82.60,46.46 L83.00,50.66 L83.40,54.86 L83.80,59.01 L84.20,63.07 L84.60,67.43 L85.00,72.90 L85.40,78.22 L85.80,83.32 L86.20,88.14 L86.60,92.64 L87.00,96.77 L87.40,100.52 L87.80,103.90 L88.20,106.89 L88.60,109.52 L89.00,111.80 L89.40,113.76 L89.80,115.43 L90.20,116.84 L90.60,118.01 L91.00,118.98 L91.40,119.77 L91.80,120.42 L92.20,120.93 L92.60,121.34 L93.00,121.66 L93.40,121.92 L93.80,122.11 L94.20,122.26 L94.60,122.38" fill="none" stroke="#000" stroke-width="1.875" stroke-linejoin="round" stroke-linecap="round"/>
<path d="M63.40,122.70 L63.80,122.70 L64.20,122.70 L64.60,122.70 L65.00,122.70 L65.40,122.70 L65.80,122.70 L66.20,122.70 L66.60,122.70 L67.00,122.70 L67.40,122.70 L67.80,122.70 L68.20,122.70 L68.60,122.70 L69.00,122.70 L69.40,122.70 L69.80,122.70 L70.20,122.70 L70.60,122.70 L71.00,122.70 L71.40,122.70 L71.80,122.70 L72.20,122.70 L72.60,122.70 L73.00,122.70 L73.40,122.70 L73.80,122.70 L74.20,122.70 L74.60,122.70 L75.00,122.70 L75.40,122.70 L75.80,122.70 L76.20,122.70 L76.60,122.70 L77.00,122.70 L77.40,122.70 L77.80,122.70 L78.20,122.70 L78.60,122.70 L79.00,122.70 L79.40,122.70 L79.80,122.70 L80.20,122.70 L80.60,122.70 L81.00,122.70 L81.40,122.70 L81.80,122.70 L82.20,122.70 L82.60,122.70 L83.00,122.70 L83.40,122.70 L83.80,122.70 L84.20,122.70 L84.60,122.70 L85.00,122.70 L85.40,122.70 L85.80,122.70 L86.20,122.70 L86.60,122.70 L87.00,122.70 L87.40,122.70 L87.80,122.70 L88.20,122.70 L88.60,122.70 L89.00,122.70 L89.40,122.70 L89.80,122.70 L90.20,122.70 L90.60,122.70 L91.00,122.70 L91.40,122.70 L91.80,122.70 L92.20,122.70 L92.60,122.70 L93.00,122.69 L93.40,122.69 L93.80,122.69 L94.20,122.69 L94.60,122.69 L95.00,122.68 L95.40,122.68 L95.80,122.67 L96.20,122.67 L96.60,122.66 L97.00,122.65 L97.40,122.64 L97.80,122.62 L98.20,122.61 L98.60,122.59 L99.00,122.56 L99.40,122.53 L99.80,122.49 L100.20,122.45 L100.60,122.40 L101.00,122.33 L101.40,122.26 L101.80,122.17 L102.20,122.06 L102.60,121.94 L103.00,121.80 L103.40,121.63 L103.80,121.43 L104.20,121.20 L104.60,120.93 L105.00,120.63 L105.40,120.28 L105.80,119.87 L106.20,119.41 L106.60,118.88 L107.00,118.29 L107.40,117.61 L107.80,116.86 L108.20,116.00 L108.60,115.05 L109.00,113.99 L109.40,112.81 L109.80,111.51 L110.20,110.07 L110.60,108.50 L111.00,106.78 L111.40,104.91 L111.80,102.88 L112.20,100.69 L112.60,98.34 L113.00,95.83 L113.40,93.16 L113.80,90.33 L114.20,87.35 L114.60,84.23 L115.00,80.97 L115.40,77.60 L115.80,74.13 L116.20,70.57 L116.60,66.96 L117.00,63.98 L117.40,61.18 L117.80,58.33 L118.20,55.43 L118.60,52.51 L119.00,49.58 L119.40,46.66 L119.80,43.77 L120.20,40.93 L120.60,38.19 L121.00,35.58 L121.40,33.18 L121.80,31.07 L122.20,29.50 L122.60,30.11 L123.00,31.83 L123.40,33.91 L123.80,36.22 L124.20,38.68 L124.60,41.26 L125.00,43.91 L125.40,46.61 L125.80,49.34 L126.20,52.08 L126.60,54.80 L127.00,57.51 L127.40,60.19 L127.80,62.82 L128.20,65.41 L128.60,68.88 L129.00,72.63 L129.40,76.33 L129.80,79.94 L130.20,83.44 L130.60,86.82 L131.00,90.06 L131.40,93.13 L131.80,96.03 L132.20,98.76 L132.60,101.30 L133.00,103.66 L133.40,105.83 L133.80,107.82 L134.20,109.63 L134.60,111.28 L135.00,112.76 L135.40,114.09 L135.80,115.27 L136.20,116.32 L136.60,117.24 L137.00,118.06 L137.40,118.76 L137.80,119.38 L138.20,119.91 L138.60,120.37 L139.00,120.76 L139.40,121.09 L139.80,121.37 L140.20,121.61 L140.60,121.81 L141.00,121.97 L141.40,122.11 L141.80,122.22 L142.20,122.32 L142.60,122.39" fill="none" stroke="#6ab04c" stroke-width="1.6875" stroke-linejoin="round" stroke-linecap="round"/>
<path d="M63.40,122.70 L63.80,122.70 L64.20,122.70 L64.60,122.70 L65.00,122.70 L65.40,122.70 L65.80,122.70 L66.20,122.70 L66.60,122.70 L67.00,122.70 L67.40,122.70 L67.80,122.70 L68.20,122.70 L68.60,122.70 L69.00,122.70 L69.40,122.70 L69.80,122.70 L70.20,122.70 L70.60,122.70 L71.00,122.70 L71.40,122.70 L71.80,122.70 L72.20,122.70 L72.60,122.70 L73.00,122.70 L73.40,122.70 L73.80,122.70 L74.20,122.70 L74.60,122.70 L75.00,122.70 L75.40,122.70 L75.80,122.70 L76.20,122.70 L76.60,122.70 L77.00,122.70 L77.40,122.70 L77.80,122.70 L78.20,122.70 L78.60,122.70 L79.00,122.70 L79.40,122.70 L79.80,122.70 L80.20,122.70 L80.60,122.70 L81.00,122.70 L81.40,122.70 L81.80,122.70 L82.20,122.70 L82.60,122.70 L83.00,122.70 L83.40,122.70 L83.80,122.70 L84.20,122.70 L84.60,122.70 L85.00,122.70 L85.40,122.70 L85.80,122.70 L86.20,122.70 L86.60,122.70 L87.00,122.70 L87.40,122.70 L87.80,122.70 L88.20,122.70 L88.60,122.70 L89.00,122.70 L89.40,122.70 L89.80,122.70 L90.20,122.70 L90.60,122.70 L91.00,122.70 L91.40,122.70 L91.80,122.70 L92.20,122.70 L92.60,122.70 L93.00,122.70 L93.40,122.70 L93.80,122.70 L94.20,122.70 L94.60,122.70 L95.00,122.70 L95.40,122.70 L95.80,122.70 L96.20,122.70 L96.60,122.70 L97.00,122.70 L97.40,122.70 L97.80,122.70 L98.20,122.70 L98.60,122.70 L99.00,122.70 L99.40,122.70 L99.80,122.70 L100.20,122.70 L100.60,122.70 L101.00,122.70 L101.40,122.70 L101.80,122.70 L102.20,122.70 L102.60,122.70 L103.00,122.70 L103.40,122.70 L103.80,122.70 L104.20,122.69 L104.60,122.69 L105.00,122.69 L105.40,122.68 L105.80,122.67 L106.20,122.67 L106.60,122.65 L107.00,122.63 L107.40,122.61 L107.80,122.58 L108.20,122.54 L108.60,122.49 L109.00,122.42 L109.40,122.33 L109.80,122.22 L110.20,122.08 L110.60,121.90 L111.00,121.67 L111.40,121.39 L111.80,121.04 L112.20,120.62 L112.60,120.10 L113.00,119.47 L113.40,118.71 L113.80,117.81 L114.20,116.75 L114.60,115.50 L115.00,114.05 L115.40,112.37 L115.80,110.44 L116.20,108.25 L116.60,105.78 L117.00,103.01 L117.40,99.95 L117.80,96.59 L118.20,92.93 L118.60,88.98 L119.00,84.78 L119.40,80.34 L119.80,75.70 L120.20,70.92 L120.60,66.05 L121.00,62.52 L121.40,58.91 L121.80,55.24 L122.20,51.52 L122.60,47.79 L123.00,44.10 L123.40,40.49 L123.80,37.04 L124.20,33.86 L124.60,31.12 L125.00,29.30 L125.40,31.01 L125.80,33.60 L126.20,36.61 L126.60,39.88 L127.00,43.30 L127.40,46.82 L127.80,50.38 L128.20,53.94 L128.60,57.48 L129.00,60.96 L129.40,64.38 L129.80,68.39 L130.20,73.01 L130.60,77.54 L131.00,81.91 L131.40,86.08 L131.80,90.04 L132.20,93.75 L132.60,97.19 L133.00,100.37 L133.40,103.27 L133.80,105.89 L134.20,108.25 L134.60,110.35 L135.00,112.21 L135.40,113.84 L135.80,115.26 L136.20,116.50 L136.60,117.55 L137.00,118.46 L137.40,119.22 L137.80,119.87 L138.20,120.40 L138.60,120.85 L139.00,121.22 L139.40,121.52 L139.80,121.77 L140.20,121.96 L140.60,122.12 L141.00,122.25 L141.40,122.35" fill="none" stroke="#e3a030" stroke-width="1.6875" stroke-linejoin="round" stroke-linecap="round"/>
<path d="M63.40,122.70 L63.80,122.70 L64.20,122.70 L64.60,122.70 L65.00,122.70 L65.40,122.70 L65.80,122.70 L66.20,122.70 L66.60,122.70 L67.00,122.70 L67.40,122.70 L67.80,122.70 L68.20,122.70 L68.60,122.70 L69.00,122.70 L69.40,122.70 L69.80,122.70 L70.20,122.70 L70.60,122.70 L71.00,122.70 L71.40,122.70 L71.80,122.70 L72.20,122.70 L72.60,122.70 L73.00,122.70 L73.40,122.70 L73.80,122.70 L74.20,122.70 L74.60,122.70 L75.00,122.70 L75.40,122.70 L75.80,122.70 L76.20,122.70 L76.60,122.70 L77.00,122.70 L77.40,122.70 L77.80,122.70 L78.20,122.70 L78.60,122.70 L79.00,122.70 L79.40,122.70 L79.80,122.70 L80.20,122.70 L80.60,122.70 L81.00,122.70 L81.40,122.70 L81.80,122.70 L82.20,122.70 L82.60,122.70 L83.00,122.70 L83.40,122.70 L83.80,122.70 L84.20,122.70 L84.60,122.70 L85.00,122.70 L85.40,122.70 L85.80,122.70 L86.20,122.70 L86.60,122.70 L87.00,122.70 L87.40,122.70 L87.80,122.70 L88.20,122.70 L88.60,122.70 L89.00,122.70 L89.40,122.70 L89.80,122.70 L90.20,122.70 L90.60,122.70 L91.00,122.70 L91.40,122.70 L91.80,122.70 L92.20,122.70 L92.60,122.70 L93.00,122.70 L93.40,122.70 L93.80,122.70 L94.20,122.70 L94.60,122.70 L95.00,122.70 L95.40,122.70 L95.80,122.70 L96.20,122.70 L96.60,122.70 L97.00,122.70 L97.40,122.70 L97.80,122.70 L98.20,122.70 L98.60,122.70 L99.00,122.70 L99.40,122.70 L99.80,122.69 L100.20,122.69 L100.60,122.69 L101.00,122.68 L101.40,122.68 L101.80,122.67 L102.20,122.66 L102.60,122.65 L103.00,122.63 L103.40,122.61 L103.80,122.58 L104.20,122.55 L104.60,122.50 L105.00,122.44 L105.40,122.37 L105.80,122.28 L106.20,122.16 L106.60,122.02 L107.00,121.85 L107.40,121.63 L107.80,121.36 L108.20,121.04 L108.60,120.66 L109.00,120.19 L109.40,119.64 L109.80,118.98 L110.20,118.21 L110.60,117.30 L111.00,116.25 L111.40,115.04 L111.80,113.65 L112.20,112.06 L112.60,110.27 L113.00,108.25 L113.40,105.99 L113.80,103.49 L114.20,100.75 L114.60,97.74 L115.00,94.49 L115.40,90.99 L115.80,87.26 L116.20,83.32 L116.60,79.19 L117.00,74.91 L117.40,70.52 L117.80,66.05 L118.20,62.82 L118.60,59.52 L119.00,56.16 L119.40,52.76 L119.80,49.34 L120.20,45.94 L120.60,42.58 L121.00,39.32 L121.40,36.22 L121.80,33.37 L122.20,30.92 L122.60,29.30 L123.00,30.45 L123.40,32.20 L123.80,34.25 L124.20,36.51 L124.60,38.91 L125.00,41.41 L125.40,43.98 L125.80,46.59 L126.20,49.23 L126.60,51.88 L127.00,54.52 L127.40,57.14 L127.80,59.74 L128.20,62.29 L128.60,64.81 L129.00,67.78 L129.40,71.23 L129.80,74.63 L130.20,77.97 L130.60,81.21 L131.00,84.36 L131.40,87.39 L131.80,90.29 L132.20,93.05 L132.60,95.67 L133.00,98.14 L133.40,100.47 L133.80,102.64 L134.20,104.65 L134.60,106.52 L135.00,108.25 L135.40,109.83 L135.80,111.28 L136.20,112.60 L136.60,113.79 L137.00,114.87 L137.40,115.84 L137.80,116.71 L138.20,117.49 L138.60,118.18 L139.00,118.79 L139.40,119.33 L139.80,119.81 L140.20,120.22 L140.60,120.59 L141.00,120.90 L141.40,121.17 L141.80,121.41 L142.20,121.61 L142.60,121.79 L143.00,121.94 L143.40,122.06 L143.80,122.17 L144.20,122.26 L144.60,122.34" fill="none" stroke="#2c4a86" stroke-width="1.75" stroke-linejoin="round" stroke-linecap="round"/>
<path d="M63.40,122.70 L63.80,122.70 L64.20,122.70 L64.60,122.70 L65.00,122.70 L65.40,122.70 L65.80,122.70 L66.20,122.70 L66.60,122.70 L67.00,122.70 L67.40,122.70 L67.80,122.70 L68.20,122.70 L68.60,122.70 L69.00,122.70 L69.40,122.70 L69.80,122.70 L70.20,122.70 L70.60,122.70 L71.00,122.70 L71.40,122.70 L71.80,122.70 L72.20,122.70 L72.60,122.70 L73.00,122.70 L73.40,122.70 L73.80,122.70 L74.20,122.70 L74.60,122.70 L75.00,122.70 L75.40,122.70 L75.80,122.70 L76.20,122.70 L76.60,122.70 L77.00,122.70 L77.40,122.70 L77.80,122.70 L78.20,122.70 L78.60,122.70 L79.00,122.70 L79.40,122.70 L79.80,122.70 L80.20,122.70 L80.60,122.70 L81.00,122.70 L81.40,122.70 L81.80,122.70 L82.20,122.70 L82.60,122.70 L83.00,122.70 L83.40,122.70 L83.80,122.70 L84.20,122.70 L84.60,122.70 L85.00,122.70 L85.40,122.70 L85.80,122.70 L86.20,122.70 L86.60,122.70 L87.00,122.70 L87.40,122.70 L87.80,122.70 L88.20,122.70 L88.60,122.70 L89.00,122.70 L89.40,122.70 L89.80,122.70 L90.20,122.70 L90.60,122.70 L91.00,122.70 L91.40,122.70 L91.80,122.70 L92.20,122.70 L92.60,122.70 L93.00,122.70 L93.40,122.70 L93.80,122.70 L94.20,122.70 L94.60,122.70 L95.00,122.70 L95.40,122.70 L95.80,122.70 L96.20,122.70 L96.60,122.70 L97.00,122.70 L97.40,122.70 L97.80,122.70 L98.20,122.70 L98.60,122.70 L99.00,122.70 L99.40,122.70 L99.80,122.70 L100.20,122.70 L100.60,122.70 L101.00,122.70 L101.40,122.70 L101.80,122.70 L102.20,122.70 L102.60,122.70 L103.00,122.70 L103.40,122.70 L103.80,122.70 L104.20,122.70 L104.60,122.70 L105.00,122.70 L105.40,122.70 L105.80,122.69 L106.20,122.69 L106.60,122.69 L107.00,122.68 L107.40,122.67 L107.80,122.66 L108.20,122.65 L108.60,122.62 L109.00,122.60 L109.40,122.56 L109.80,122.51 L110.20,122.44 L110.60,122.36 L111.00,122.25 L111.40,122.11 L111.80,121.93 L112.20,121.70 L112.60,121.41 L113.00,121.04 L113.40,120.59 L113.80,120.04 L114.20,119.37 L114.60,118.55 L115.00,117.58 L115.40,116.41 L115.80,115.04 L116.20,113.44 L116.60,111.57 L117.00,109.43 L117.40,106.99 L117.80,104.23 L118.20,101.15 L118.60,97.74 L119.00,94.00 L119.40,89.95 L119.80,85.60 L120.20,80.98 L120.60,76.15 L121.00,71.15 L121.40,66.05 L121.80,62.35 L122.20,58.57 L122.60,54.71 L123.00,50.81 L123.40,46.91 L123.80,43.05 L124.20,39.32 L124.60,35.79 L125.00,32.62 L125.40,30.06 L125.80,29.94 L126.20,32.08 L126.60,34.75 L127.00,37.74 L127.40,40.93 L127.80,44.25 L128.20,47.63 L128.60,51.05 L129.00,54.46 L129.40,57.85 L129.80,61.18 L130.20,64.45 L130.60,68.17 L131.00,72.36 L131.40,76.45 L131.80,80.42 L132.20,84.23 L132.60,87.86 L133.00,91.29 L133.40,94.52 L133.80,97.52 L134.20,100.31 L134.60,102.88 L135.00,105.23 L135.40,107.37 L135.80,109.30 L136.20,111.04 L136.60,112.60 L137.00,113.99 L137.40,115.22 L137.80,116.30 L138.20,117.25 L138.60,118.07 L139.00,118.79 L139.40,119.41 L139.80,119.94 L140.20,120.40 L140.60,120.79 L141.00,121.12 L141.40,121.39 L141.80,121.63 L142.20,121.82 L142.60,121.98 L143.00,122.12 L143.40,122.23 L143.80,122.32 L144.20,122.40" fill="none" stroke="#b0103e" stroke-width="1.75" stroke-linejoin="round" stroke-linecap="round"/>
</g>
<clipPath id="cA2"><rect x="208.4" y="24.5" width="99.20000000000002" height="99.7"/></clipPath>
<g clip-path="url(#cA2)">
<path d="M208.40,122.70 L208.80,122.70 L209.20,122.70 L209.60,122.70 L210.00,122.70 L210.40,122.70 L210.80,122.70 L211.20,122.70 L211.60,122.70 L212.00,122.70 L212.40,122.70 L212.80,122.70 L213.20,122.70 L213.60,122.69 L214.00,122.69 L214.40,122.69 L214.80,122.69 L215.20,122.68 L215.60,122.68 L216.00,122.67 L216.40,122.66 L216.80,122.65 L217.20,122.64 L217.60,122.62 L218.00,122.60 L218.40,122.58 L218.80,122.55 L219.20,122.51 L219.60,122.46 L220.00,122.40 L220.40,122.33 L220.80,122.24 L221.20,122.13 L221.60,122.00 L222.00,121.85 L222.40,121.67 L222.80,121.45 L223.20,121.19 L223.60,120.89 L224.00,120.53 L224.40,120.12 L224.80,119.64 L225.20,119.08 L225.60,118.44 L226.00,117.71 L226.40,116.88 L226.80,115.94 L227.20,114.88 L227.60,113.69 L228.00,112.37 L228.40,110.89 L228.80,109.27 L229.20,107.48 L229.60,105.53 L230.00,103.41 L230.40,101.11 L230.80,98.64 L231.20,96.01 L231.60,93.20 L232.00,90.24 L232.40,87.12 L232.80,83.87 L233.20,80.50 L233.60,77.03 L234.00,73.48 L234.40,69.87 L234.80,66.23 L235.20,63.75 L235.60,61.22 L236.00,58.65 L236.40,56.05 L236.80,53.42 L237.20,50.79 L237.60,48.15 L238.00,45.53 L238.40,42.94 L238.80,40.41 L239.20,37.97 L239.60,35.64 L240.00,33.48 L240.40,31.57 L240.80,30.05 L241.20,30.13 L241.60,31.91 L242.00,34.15 L242.40,36.66 L242.80,39.36 L243.20,42.18 L243.60,45.08 L244.00,48.03 L244.40,51.00 L244.80,53.97 L245.20,56.92 L245.60,59.84 L246.00,62.72 L246.40,65.54 L246.80,69.31 L247.20,73.38 L247.60,77.38 L248.00,81.28 L248.40,85.04 L248.80,88.64 L249.20,92.06 L249.60,95.28 L250.00,98.29 L250.40,101.09 L250.80,103.67 L251.20,106.02 L251.60,108.17 L252.00,110.10 L252.40,111.83 L252.80,113.38 L253.20,114.75 L253.60,115.95 L254.00,117.00 L254.40,117.91 L254.80,118.70 L255.20,119.38 L255.60,119.95 L256.00,120.44 L256.40,120.85 L256.80,121.20 L257.20,121.48 L257.60,121.72 L258.00,121.92 L258.40,122.08 L258.80,122.21 L259.20,122.31 L259.60,122.39" fill="none" stroke="#e3a030" stroke-width="1.75" stroke-linejoin="round" stroke-linecap="round"/>
<path d="M208.40,122.70 L208.80,122.70 L209.20,122.70 L209.60,122.70 L210.00,122.70 L210.40,122.70 L210.80,122.70 L211.20,122.70 L211.60,122.70 L212.00,122.70 L212.40,122.70 L212.80,122.70 L213.20,122.70 L213.60,122.69 L214.00,122.69 L214.40,122.69 L214.80,122.68 L215.20,122.68 L215.60,122.67 L216.00,122.65 L216.40,122.64 L216.80,122.62 L217.20,122.59 L217.60,122.56 L218.00,122.51 L218.40,122.45 L218.80,122.38 L219.20,122.28 L219.60,122.16 L220.00,122.02 L220.40,121.83 L220.80,121.60 L221.20,121.33 L221.60,120.99 L222.00,120.58 L222.40,120.09 L222.80,119.50 L223.20,118.80 L223.60,117.98 L224.00,117.02 L224.40,115.91 L224.80,114.63 L225.20,113.16 L225.60,111.49 L226.00,109.61 L226.40,107.50 L226.80,105.15 L227.20,102.57 L227.60,99.73 L228.00,96.66 L228.40,93.34 L228.80,89.80 L229.20,86.05 L229.60,82.11 L230.00,78.01 L230.40,73.79 L230.80,69.49 L231.20,65.50 L231.60,62.51 L232.00,59.47 L232.40,56.37 L232.80,53.24 L233.20,50.10 L233.60,46.96 L234.00,43.86 L234.40,40.82 L234.80,37.90 L235.20,35.15 L235.60,32.65 L236.00,30.58 L236.40,29.73 L236.80,30.70 L237.20,32.01 L237.60,33.52 L238.00,35.18 L238.40,36.95 L238.80,38.80 L239.20,40.71 L239.60,42.67 L240.00,44.67 L240.40,46.69 L240.80,48.73 L241.20,50.77 L241.60,52.81 L242.00,54.85 L242.40,56.88 L242.80,58.89 L243.20,60.88 L243.60,62.85 L244.00,64.79 L244.40,66.94 L244.80,69.76 L245.20,72.56 L245.60,75.33 L246.00,78.06 L246.40,80.74 L246.80,83.36 L247.20,85.90 L247.60,88.37 L248.00,90.75 L248.40,93.04 L248.80,95.23 L249.20,97.33 L249.60,99.32 L250.00,101.22 L250.40,103.00 L250.80,104.69 L251.20,106.27 L251.60,107.75 L252.00,109.13 L252.40,110.41 L252.80,111.60 L253.20,112.70 L253.60,113.72 L254.00,114.65 L254.40,115.50 L254.80,116.28 L255.20,116.99 L255.60,117.63 L256.00,118.21 L256.40,118.74 L256.80,119.21 L257.20,119.63 L257.60,120.01 L258.00,120.35 L258.40,120.65 L258.80,120.92 L259.20,121.15 L259.60,121.36 L260.00,121.54 L260.40,121.70 L260.80,121.84 L261.20,121.97 L261.60,122.07 L262.00,122.17 L262.40,122.25 L262.80,122.31 L263.20,122.37" fill="none" stroke="#6ab04c" stroke-width="1.75" stroke-linejoin="round" stroke-linecap="round"/>
<path d="M208.40,122.70 L208.80,122.70 L209.20,122.70 L209.60,122.70 L210.00,122.70 L210.40,122.70 L210.80,122.70 L211.20,122.70 L211.60,122.70 L212.00,122.70 L212.40,122.70 L212.80,122.70 L213.20,122.69 L213.60,122.69 L214.00,122.68 L214.40,122.67 L214.80,122.66 L215.20,122.64 L215.60,122.62 L216.00,122.58 L216.40,122.53 L216.80,122.46 L217.20,122.36 L217.60,122.23 L218.00,122.05 L218.40,121.81 L218.80,121.50 L219.20,121.10 L219.60,120.58 L220.00,119.92 L220.40,119.09 L220.80,118.07 L221.20,116.81 L221.60,115.29 L222.00,113.47 L222.40,111.31 L222.80,108.79 L223.20,105.88 L223.60,102.57 L224.00,98.83 L224.40,94.69 L224.80,90.16 L225.20,85.27 L225.60,80.08 L226.00,74.64 L226.40,69.05 L226.80,64.31 L227.20,60.39 L227.60,56.37 L228.00,52.30 L228.40,48.22 L228.80,44.17 L229.20,40.23 L229.60,36.50 L230.00,33.13 L230.40,30.41 L230.80,30.13 L231.20,31.91 L231.60,34.15 L232.00,36.66 L232.40,39.36 L232.80,42.18 L233.20,45.08 L233.60,48.03 L234.00,51.00 L234.40,53.97 L234.80,56.92 L235.20,59.84 L235.60,62.72 L236.00,65.54 L236.40,69.15 L236.80,73.01 L237.20,76.79 L237.60,80.47 L238.00,84.03 L238.40,87.45 L238.80,90.70 L239.20,93.78 L239.60,96.67 L240.00,99.38 L240.40,101.89 L240.80,104.21 L241.20,106.35 L241.60,108.29 L242.00,110.06 L242.40,111.66 L242.80,113.10 L243.20,114.38 L243.60,115.53 L244.00,116.54 L244.40,117.43 L244.80,118.21 L245.20,118.89 L245.60,119.48 L246.00,119.99 L246.40,120.43 L246.80,120.80 L247.20,121.12 L247.60,121.39 L248.00,121.62 L248.40,121.82 L248.80,121.98 L249.20,122.11 L249.60,122.22 L250.00,122.31 L250.40,122.39" fill="none" stroke="#2c4a86" stroke-width="1.75" stroke-linejoin="round" stroke-linecap="round"/>
<path d="M208.40,122.69 L208.80,122.69 L209.20,122.69 L209.60,122.68 L210.00,122.67 L210.40,122.66 L210.80,122.65 L211.20,122.63 L211.60,122.61 L212.00,122.58 L212.40,122.55 L212.80,122.50 L213.20,122.44 L213.60,122.36 L214.00,122.26 L214.40,122.13 L214.80,121.98 L215.20,121.78 L215.60,121.54 L216.00,121.24 L216.40,120.88 L216.80,120.44 L217.20,119.91 L217.60,119.27 L218.00,118.51 L218.40,117.61 L218.80,116.55 L219.20,115.31 L219.60,113.87 L220.00,112.22 L220.40,110.32 L220.80,108.17 L221.20,105.74 L221.60,103.03 L222.00,100.02 L222.40,96.71 L222.80,93.10 L223.20,89.20 L223.60,85.03 L224.00,80.60 L224.40,75.96 L224.80,71.15 L225.20,66.23 L225.60,62.46 L226.00,58.59 L226.40,54.64 L226.80,50.66 L227.20,46.68 L227.60,42.76 L228.00,38.97 L228.40,35.42 L228.80,32.28 L229.20,29.91 L229.60,31.49 L230.00,35.39 L230.40,39.99 L230.80,44.92 L231.20,50.00 L231.60,55.11 L232.00,60.14 L232.40,65.03 L232.80,71.51 L233.20,78.40 L233.60,84.96 L234.00,91.04 L234.40,96.56 L234.80,101.44 L235.20,105.69 L235.60,109.29 L236.00,112.30 L236.40,114.76 L236.80,116.73 L237.20,118.28 L237.60,119.48 L238.00,120.39 L238.40,121.07 L238.80,121.56 L239.20,121.92 L239.60,122.18 L240.00,122.35" fill="none" stroke="#000" stroke-width="1.875" stroke-linejoin="round" stroke-linecap="round"/>
<path d="M208.40,122.69 L208.80,122.69 L209.20,122.69 L209.60,122.68 L210.00,122.68 L210.40,122.68 L210.80,122.68 L211.20,122.68 L211.60,122.68 L212.00,122.67 L212.40,122.67 L212.80,122.67 L213.20,122.66 L213.60,122.66 L214.00,122.66 L214.40,122.65 L214.80,122.65 L215.20,122.65 L215.60,122.64 L216.00,122.64 L216.40,122.63 L216.80,122.62 L217.20,122.62 L217.60,122.61 L218.00,122.60 L218.40,122.59 L218.80,122.58 L219.20,122.57 L219.60,122.56 L220.00,122.55 L220.40,122.54 L220.80,122.52 L221.20,122.51 L221.60,122.49 L222.00,122.47 L222.40,122.45 L222.80,122.43 L223.20,122.41 L223.60,122.39 L224.00,122.36 L224.40,122.33 L224.80,122.30 L225.20,122.27 L225.60,122.23 L226.00,122.19 L226.40,122.15 L226.80,122.10 L227.20,122.05 L227.60,122.00 L228.00,121.94 L228.40,121.88 L228.80,121.82 L229.20,121.74 L229.60,121.67 L230.00,121.58 L230.40,121.49 L230.80,121.40 L231.20,121.29 L231.60,121.18 L232.00,121.06 L232.40,120.93 L232.80,120.79 L233.20,120.64 L233.60,120.48 L234.00,120.31 L234.40,120.13 L234.80,119.93 L235.20,119.72 L235.60,119.49 L236.00,119.25 L236.40,118.99 L236.80,118.71 L237.20,118.41 L237.60,118.09 L238.00,117.75 L238.40,117.39 L238.80,117.00 L239.20,116.58 L239.60,116.14 L240.00,115.67 L240.40,115.16 L240.80,114.63 L241.20,114.05 L241.60,113.44 L242.00,112.80 L242.40,112.11 L242.80,111.37 L243.20,110.60 L243.60,109.77 L244.00,108.89 L244.40,107.96 L244.80,106.98 L245.20,105.94 L245.60,104.83 L246.00,103.67 L246.40,102.44 L246.80,101.13 L247.20,99.76 L247.60,98.31 L248.00,96.79 L248.40,95.19 L248.80,93.50 L249.20,91.73 L249.60,89.87 L250.00,87.93 L250.40,85.89 L250.80,83.76 L251.20,81.54 L251.60,79.22 L252.00,76.81 L252.40,74.30 L252.80,71.70 L253.20,69.01 L253.60,66.23 L254.00,63.14 L254.40,59.99 L254.80,56.78 L255.20,53.53 L255.60,50.26 L256.00,46.99 L256.40,43.77 L256.80,40.61 L257.20,37.58 L257.60,34.75 L258.00,32.22 L258.40,30.20 L258.80,29.98 L259.20,31.27 L259.60,32.91 L260.00,34.75 L260.40,36.75 L260.80,38.86 L261.20,41.06 L261.60,43.31 L262.00,45.60 L262.40,47.92 L262.80,50.26 L263.20,52.59 L263.60,54.92 L264.00,57.24 L264.40,59.53 L264.80,61.80 L265.20,64.03 L265.60,66.23 L266.00,69.46 L266.40,72.66 L266.80,75.82 L267.20,78.93 L267.60,81.96 L268.00,84.91 L268.40,87.76 L268.80,90.50 L269.20,93.12 L269.60,95.61 L270.00,97.98 L270.40,100.21 L270.80,102.31 L271.20,104.28 L271.60,106.10 L272.00,107.80 L272.40,109.36 L272.80,110.80 L273.20,112.12 L273.60,113.33 L274.00,114.42 L274.40,115.41 L274.80,116.30 L275.20,117.11 L275.60,117.82 L276.00,118.46 L276.40,119.03 L276.80,119.53 L277.20,119.97 L277.60,120.36 L278.00,120.70 L278.40,121.00 L278.80,121.25 L279.20,121.47 L279.60,121.67 L280.00,121.83 L280.40,121.97 L280.80,122.09 L281.20,122.19 L281.60,122.28 L282.00,122.35" fill="none" stroke="#b0103e" stroke-width="1.75" stroke-linejoin="round" stroke-linecap="round"/>
</g>
<path d="M361.10,115.50 L361.14,116.07 L361.20,116.91 L361.28,117.84 L361.38,118.70 L361.50,119.30 L361.65,119.62 L361.83,119.77 L362.04,119.80 L362.26,119.76 L362.50,119.70 L362.76,119.61 L363.04,119.47 L363.34,119.28 L363.66,119.02 L364.00,118.70 L364.37,118.30 L364.76,117.81 L365.18,117.27 L365.59,116.72 L366.00,116.20 L366.41,115.69 L366.82,115.16 L367.23,114.64 L367.63,114.15 L368.00,113.70 L368.36,113.37 L368.70,113.16 L369.02,112.94 L369.32,112.59 L369.60,112.00 L369.83,111.14 L370.02,110.09 L370.19,108.88 L370.38,107.57 L370.60,106.20 L370.88,104.73 L371.19,103.12 L371.51,101.44 L371.82,99.75 L372.10,98.10 L372.33,96.53 L372.54,94.99 L372.72,93.45 L372.91,91.83 L373.10,90.10 L373.31,88.20 L373.52,86.18 L373.74,84.10 L373.93,82.02 L374.10,80.00 L374.23,78.09 L374.33,76.23 L374.42,74.38 L374.50,72.49 L374.60,70.50 L374.71,68.32 L374.82,65.99 L374.94,63.65 L375.07,61.44 L375.20,59.50 L375.35,58.00 L375.52,56.83 L375.69,55.76 L375.86,54.56 L376.00,53.00 L376.11,50.93 L376.20,48.51 L376.28,45.95 L376.37,43.47 L376.50,41.30 L376.66,39.42 L376.85,37.70 L377.06,36.13 L377.28,34.73 L377.50,33.50 L377.73,32.46 L377.98,31.61 L378.24,30.92 L378.48,30.36 L378.70,29.90 L378.89,29.57 L379.05,29.38 L379.20,29.30 L379.35,29.29 L379.50,29.30 L379.66,29.31 L379.82,29.35 L379.97,29.46 L380.13,29.66 L380.30,30.00 L380.48,30.38 L380.67,30.78 L380.86,31.34 L381.04,32.20 L381.20,33.50 L381.32,35.43 L381.42,37.88 L381.50,40.60 L381.59,43.29 L381.70,45.70 L381.83,47.86 L381.97,49.97 L382.12,51.94 L382.26,53.71 L382.40,55.20 L382.53,56.25 L382.65,56.91 L382.76,57.43 L382.88,58.04 L383.00,59.00 L383.12,60.40 L383.24,62.07 L383.37,63.88 L383.49,65.67 L383.60,67.30 L383.71,68.72 L383.81,70.03 L383.90,71.30 L384.00,72.60 L384.10,74.00 L384.20,75.52 L384.30,77.10 L384.39,78.73 L384.49,80.37 L384.60,82.00 L384.71,83.58 L384.83,85.14 L384.96,86.71 L385.08,88.35 L385.20,90.10 L385.32,91.97 L385.43,93.94 L385.55,95.98 L385.67,98.07 L385.80,100.20 L385.95,102.44 L386.10,104.79 L386.26,107.16 L386.43,109.43 L386.60,111.50 L386.77,113.40 L386.94,115.20 L387.11,116.85 L387.30,118.30 L387.50,119.50 L387.70,120.40 L387.91,121.03 L388.13,121.48 L388.38,121.81 L388.70,122.10 L388.02,122.33 L386.32,122.44 L385.20,122.47 L386.23,122.48 L391.00,122.50 L401.68,122.53 L417.22,122.53 L434.35,122.52 L449.80,122.51 L460.30,122.50 L460.3,122.8 L361,122.8 Z" fill="#e0eef8" stroke="none"/>
<clipPath id="cA3"><rect x="361.0" y="24.0" width="99.30000000000001" height="99.0"/></clipPath>
<g clip-path="url(#cA3)">
<path d="M361.45,116.10 L361.49,116.67 L361.55,117.51 L361.63,118.44 L361.73,119.30 L361.85,119.90 L362.00,120.22 L362.18,120.37 L362.39,120.40 L362.61,120.36 L362.85,120.30 L363.11,120.21 L363.39,120.07 L363.69,119.88 L364.01,119.62 L364.35,119.30 L364.72,118.90 L365.11,118.41 L365.53,117.87 L365.94,117.32 L366.35,116.80 L366.76,116.29 L367.17,115.76 L367.58,115.24 L367.98,114.75 L368.35,114.30 L368.71,113.97 L369.05,113.76 L369.37,113.54 L369.67,113.19 L369.95,112.60 L370.18,111.74 L370.37,110.69 L370.54,109.48 L370.73,108.17 L370.95,106.80 L371.23,105.33 L371.54,103.72 L371.86,102.04 L372.17,100.35 L372.45,98.70 L372.68,97.13 L372.89,95.59 L373.07,94.05 L373.26,92.43 L373.45,90.70 L373.66,88.80 L373.87,86.78 L374.09,84.70 L374.28,82.62 L374.45,80.60 L374.58,78.69 L374.68,76.83 L374.77,74.98 L374.85,73.09 L374.95,71.10 L375.06,68.92 L375.17,66.59 L375.29,64.25 L375.42,62.04 L375.55,60.10 L375.70,58.60 L375.87,57.43 L376.04,56.36 L376.21,55.16 L376.35,53.60 L376.46,51.53 L376.55,49.11 L376.63,46.55 L376.72,44.07 L376.85,41.90 L377.01,40.02 L377.20,38.30 L377.41,36.73 L377.63,35.33 L377.85,34.10 L378.09,33.06 L378.37,32.21 L378.64,31.52 L378.87,30.96 L379.05,30.50 L379.14,30.17 L379.15,29.98 L379.14,29.90 L379.15,29.89 L379.20,29.90 L379.32,29.91 L379.47,29.95 L379.64,30.06 L379.82,30.26 L380.00,30.60 L380.18,30.98 L380.37,31.38 L380.56,31.94 L380.74,32.80 L380.90,34.10 L381.02,36.03 L381.12,38.48 L381.20,41.20 L381.29,43.89 L381.40,46.30 L381.53,48.46 L381.67,50.57 L381.82,52.54 L381.96,54.31 L382.10,55.80 L382.23,56.85 L382.35,57.51 L382.46,58.03 L382.58,58.64 L382.70,59.60 L382.82,61.00 L382.94,62.67 L383.07,64.48 L383.19,66.27 L383.30,67.90 L383.41,69.32 L383.51,70.63 L383.60,71.90 L383.70,73.20 L383.80,74.60 L383.90,76.12 L384.00,77.70 L384.09,79.33 L384.19,80.97 L384.30,82.60 L384.41,84.18 L384.53,85.74 L384.66,87.31 L384.78,88.95 L384.90,90.70 L385.02,92.57 L385.13,94.54 L385.25,96.58 L385.37,98.67 L385.50,100.80 L385.65,103.04 L385.80,105.39 L385.96,107.76 L386.13,110.03 L386.30,112.10 L386.47,114.00 L386.64,115.80 L386.81,117.45 L387.00,118.90 L387.20,120.10 L387.40,121.00 L387.61,121.63 L387.83,122.08 L388.08,122.41 L388.40,122.70 L387.72,122.93 L386.02,123.04 L384.90,123.07 L385.93,123.08 L390.70,123.10 L401.38,123.13 L416.92,123.13 L434.05,123.12 L449.50,123.11 L460.00,123.10" fill="none" stroke="#6aaee0" stroke-width="1.5" stroke-linejoin="round" stroke-linecap="round"/>
<path d="M361.10,115.50 L361.14,116.07 L361.20,116.91 L361.28,117.84 L361.38,118.70 L361.50,119.30 L361.65,119.62 L361.83,119.77 L362.04,119.80 L362.26,119.76 L362.50,119.70 L362.76,119.61 L363.04,119.47 L363.34,119.28 L363.66,119.02 L364.00,118.70 L364.37,118.30 L364.76,117.81 L365.18,117.27 L365.59,116.72 L366.00,116.20 L366.41,115.69 L366.82,115.16 L367.23,114.64 L367.63,114.15 L368.00,113.70 L368.36,113.37 L368.70,113.16 L369.02,112.94 L369.32,112.59 L369.60,112.00 L369.83,111.14 L370.02,110.09 L370.19,108.88 L370.38,107.57 L370.60,106.20 L370.88,104.73 L371.19,103.12 L371.51,101.44 L371.82,99.75 L372.10,98.10 L372.33,96.53 L372.54,94.99 L372.72,93.45 L372.91,91.83 L373.10,90.10 L373.31,88.20 L373.52,86.18 L373.74,84.10 L373.93,82.02 L374.10,80.00 L374.23,78.09 L374.33,76.23 L374.42,74.38 L374.50,72.49 L374.60,70.50 L374.71,68.32 L374.82,65.99 L374.94,63.65 L375.07,61.44 L375.20,59.50 L375.35,58.00 L375.52,56.83 L375.69,55.76 L375.86,54.56 L376.00,53.00 L376.11,50.93 L376.20,48.51 L376.28,45.95 L376.37,43.47 L376.50,41.30 L376.66,39.42 L376.85,37.70 L377.06,36.13 L377.28,34.73 L377.50,33.50 L377.73,32.46 L377.98,31.61 L378.24,30.92 L378.48,30.36 L378.70,29.90 L378.89,29.57 L379.05,29.38 L379.20,29.30 L379.35,29.29 L379.50,29.30 L379.66,29.31 L379.82,29.35 L379.97,29.46 L380.13,29.66 L380.30,30.00 L380.48,30.38 L380.67,30.78 L380.86,31.34 L381.04,32.20 L381.20,33.50 L381.32,35.43 L381.42,37.88 L381.50,40.60 L381.59,43.29 L381.70,45.70 L381.83,47.86 L381.97,49.97 L382.12,51.94 L382.26,53.71 L382.40,55.20 L382.53,56.25 L382.65,56.91 L382.76,57.43 L382.88,58.04 L383.00,59.00 L383.12,60.40 L383.24,62.07 L383.37,63.88 L383.49,65.67 L383.60,67.30 L383.71,68.72 L383.81,70.03 L383.90,71.30 L384.00,72.60 L384.10,74.00 L384.20,75.52 L384.30,77.10 L384.39,78.73 L384.49,80.37 L384.60,82.00 L384.71,83.58 L384.83,85.14 L384.96,86.71 L385.08,88.35 L385.20,90.10 L385.32,91.97 L385.43,93.94 L385.55,95.98 L385.67,98.07 L385.80,100.20 L385.95,102.44 L386.10,104.79 L386.26,107.16 L386.43,109.43 L386.60,111.50 L386.77,113.40 L386.94,115.20 L387.11,116.85 L387.30,118.30 L387.50,119.50 L387.70,120.40 L387.91,121.03 L388.13,121.48 L388.38,121.81 L388.70,122.10 L388.02,122.33 L386.32,122.44 L385.20,122.47 L386.23,122.48 L391.00,122.50 L401.68,122.53 L417.22,122.53 L434.35,122.52 L449.80,122.51 L460.30,122.50" fill="none" stroke="#000" stroke-width="1.875" stroke-linejoin="round" stroke-linecap="round"/>
</g>
<text x="7.60" y="237.20" font-size="12" text-anchor="start" font-weight="bold" fill="#000" textLength="8.30" lengthAdjust="spacingAndGlyphs" xml:space="preserve">B</text>
<text x="19.80" y="250.80" font-size="7.9" text-anchor="start" fill="#231f20" stroke="#231f20" stroke-width="0.18" textLength="60.60" lengthAdjust="spacingAndGlyphs" xml:space="preserve">UT-7 MPL P106L</text>
<line x1="40.40" y1="252.30" x2="40.40" y2="262.00" stroke="#000" stroke-width="1.5"/>
<polygon points="40.40,269.20 35.80,258.00 40.40,261.00 45.00,258.00" fill="#000" stroke="none" stroke-width="1"/>
<ellipse cx="40.5" cy="281.0" rx="10.3" ry="5.0" fill="#eee3b0" stroke="#4a4a4a" stroke-width="0.9"/>
<rect x="30.20" y="276.80" width="20.60" height="4.20" fill="#eee3b0" stroke="none" stroke-width="1"/>
<line x1="30.20" y1="276.80" x2="30.20" y2="281.00" stroke="#4a4a4a" stroke-width="0.9"/>
<line x1="50.80" y1="276.80" x2="50.80" y2="281.00" stroke="#4a4a4a" stroke-width="0.9"/>
<path d="M30.2,279.11 A10.3,5.0 0 0 0 50.8,279.11" fill="none" stroke="#4a4a4a" stroke-width="0.8"/>
<ellipse cx="40.5" cy="276.8" rx="10.3" ry="5.0" fill="#f7f1c8" stroke="#4a4a4a" stroke-width="0.9"/>
<line x1="54.20" y1="278.70" x2="77.00" y2="278.70" stroke="#000" stroke-width="1.5"/>
<polygon points="82.40,278.70 75.40,275.40 77.20,278.70 75.40,282.00" fill="#000" stroke="none" stroke-width="1"/>
<ellipse cx="99.7" cy="280.5" rx="10.9" ry="5.1" fill="#efe8d6" stroke="#444" stroke-width="0.9"/>
<rect x="88.80" y="277.00" width="21.80" height="3.50" fill="#efe8d6" stroke="none" stroke-width="1"/>
<line x1="88.80" y1="277.00" x2="88.80" y2="280.50" stroke="#444" stroke-width="0.9"/>
<line x1="110.60" y1="277.00" x2="110.60" y2="280.50" stroke="#444" stroke-width="0.9"/>
<path d="M88.8,278.925 A10.9,5.1 0 0 0 110.60000000000001,278.925" fill="none" stroke="#444" stroke-width="0.8"/>
<ellipse cx="99.7" cy="277.0" rx="10.9" ry="5.1" fill="#fbf7ec" stroke="#444" stroke-width="0.9"/>
<ellipse cx="99.7" cy="277.4" rx="9.6" ry="4.1" fill="none" stroke="#bbb" stroke-width="0.5"/>
<circle cx="99.4" cy="276.6" r="0.85" fill="#3a2438"/>
<circle cx="102.3" cy="275.8" r="0.85" fill="#3a2438"/>
<circle cx="95.7" cy="280.9" r="0.9" fill="#3a2438"/>
<circle cx="104.6" cy="280.3" r="0.85" fill="#3a2438"/>
<circle cx="100.3" cy="282.6" r="0.7" fill="#6a5a50"/>
<circle cx="101.6" cy="282.6" r="0.6" fill="#6a5a50"/>
<circle cx="99.0" cy="282.5" r="0.6" fill="#6a5a50"/>
<circle cx="98.6" cy="273.9" r="0.6" fill="#d890b8"/>
<circle cx="96.5" cy="278.2" r="0.5" fill="#e0b0c8"/>
<circle cx="103.2" cy="278.6" r="0.5" fill="#e0b0c8"/>
<polygon points="100.60,268.60 101.60,269.30 114.90,259.40 114.00,257.80" fill="#2a2a2a" stroke="none" stroke-width="1"/>
<polygon points="113.50,257.30 115.80,260.60 127.50,253.70 125.00,249.60" fill="#2e2e2e" stroke="none" stroke-width="1"/>
<polygon points="118.00,258.20 118.50,259.00 126.50,253.80 126.00,253.00" fill="#f0f0f0" stroke="none" stroke-width="1"/>
<polygon points="123.80,250.20 125.60,248.50 128.80,248.80 129.60,250.80 127.60,252.30" fill="#2a2a2a" stroke="none" stroke-width="1"/>
<line x1="128.90" y1="250.60" x2="129.00" y2="255.80" stroke="#2a2a2a" stroke-width="1.3"/>
<line x1="117.00" y1="278.80" x2="139.50" y2="278.80" stroke="#000" stroke-width="1.5"/>
<polygon points="144.80,278.80 137.80,275.50 139.60,278.80 137.80,282.10" fill="#000" stroke="none" stroke-width="1"/>
<defs><linearGradient id="fg" x1="0" y1="0" x2="0" y2="1"><stop offset="0" stop-color="#dfe8ee"/><stop offset="0.15" stop-color="#ffffff"/><stop offset="0.3" stop-color="#e4f2f8"/><stop offset="0.43" stop-color="#e8f0f4"/><stop offset="0.45" stop-color="#9a3a8c"/><stop offset="0.52" stop-color="#d898d0"/><stop offset="0.66" stop-color="#f6e0f2"/><stop offset="0.8" stop-color="#d488cc"/><stop offset="1" stop-color="#a84898"/></linearGradient></defs>
<path d="M152.6,272.1 L179.4,272.1 L181.0,274.3 L181.0,279.8 L177.0,283.7 L149.9,283.7 L149.9,277.0 Z" fill="url(#fg)" stroke="#333" stroke-width="1.0" stroke-linejoin="round"/>
<line x1="176.60" y1="272.60" x2="176.60" y2="283.20" stroke="#777" stroke-width="0.6"/>
<rect x="181.00" y="273.40" width="6.00" height="6.40" fill="#3c3c3c" stroke="none" stroke-width="1"/>
<text x="20.00" y="299.40" font-size="7.85" text-anchor="start" fill="#231f20" stroke="#231f20" stroke-width="0.18" textLength="80.40" lengthAdjust="spacingAndGlyphs" xml:space="preserve">Human methylcellulose</text>
<text x="20.00" y="307.90" font-size="7.85" text-anchor="start" fill="#231f20" stroke="#231f20" stroke-width="0.18" textLength="52.00" lengthAdjust="spacingAndGlyphs" xml:space="preserve">THPO 10ng/ml</text>
<text x="151.50" y="299.30" font-size="7.85" text-anchor="start" fill="#231f20" stroke="#231f20" stroke-width="0.18" textLength="56.20" lengthAdjust="spacingAndGlyphs" xml:space="preserve">GM-CSF 5ng/ml</text>
<text x="233.70" y="237.20" font-size="12" text-anchor="start" font-weight="bold" fill="#000" textLength="8.60" lengthAdjust="spacingAndGlyphs" xml:space="preserve">C</text>
<text x="270.20" y="250.00" font-size="7.85" text-anchor="start" fill="#231f20" stroke="#231f20" stroke-width="0.18" textLength="49.40" lengthAdjust="spacingAndGlyphs" xml:space="preserve">UT-7 MPL WT</text>
<text x="330.40" y="249.80" font-size="7.85" text-anchor="start" fill="#231f20" stroke="#231f20" stroke-width="0.18" textLength="60.00" lengthAdjust="spacingAndGlyphs" xml:space="preserve">UT-7 MPL P106L</text>
<path d="M269.6,267.2 L269.6,264.0 Q269.6,263.2 270.40000000000003,263.2 L321.4,263.2 Q322.2,263.2 322.2,264.0 L322.2,267.2" fill="none" stroke="#111" stroke-width="1.1"/>
<path d="M325.9,267.2 L325.9,264.0 Q325.9,263.2 326.7,263.2 L378.4,263.2 Q379.2,263.2 379.2,264.0 L379.2,267.2" fill="none" stroke="#111" stroke-width="1.1"/>
<text x="233.50" y="276.80" font-size="7.8" text-anchor="start" fill="#231f20" stroke="#231f20" stroke-width="0.18" textLength="23.40" lengthAdjust="spacingAndGlyphs" xml:space="preserve">EndoH</text>
<text x="288.00" y="277.00" font-size="7.6" text-anchor="middle" fill="#444" stroke="#444" stroke-width="0.18" xml:space="preserve">-</text>
<text x="315.20" y="277.00" font-size="7.6" text-anchor="middle" fill="#231f20" stroke="#231f20" stroke-width="0.18" xml:space="preserve">+</text>
<text x="344.00" y="277.00" font-size="7.6" text-anchor="middle" fill="#444" stroke="#444" stroke-width="0.18" xml:space="preserve">-</text>
<text x="370.00" y="277.00" font-size="7.6" text-anchor="middle" fill="#231f20" stroke="#231f20" stroke-width="0.18" xml:space="preserve">+</text>
<defs><filter id="bl1" filterUnits="userSpaceOnUse" x="200" y="250" width="250" height="150"><feGaussianBlur stdDeviation="0.55"/></filter><filter id="bl2" filterUnits="userSpaceOnUse" x="200" y="250" width="250" height="150"><feGaussianBlur stdDeviation="1.2"/></filter><filter id="bl3" filterUnits="userSpaceOnUse" x="200" y="250" width="250" height="150"><feGaussianBlur stdDeviation="0.8"/></filter></defs>
<rect x="268.90" y="287.60" width="112.60" height="29.00" fill="#dcdcdc" stroke="none" stroke-width="1"/>
<clipPath id="cHA"><rect x="269.4" y="288.1" width="111.60000000000002" height="28.0"/></clipPath>
<g clip-path="url(#cHA)">
<rect x="269.40" y="288.00" width="4.50" height="29.00" fill="#ebebeb" stroke="none" stroke-width="1" filter="url(#bl2)"/>
<rect x="304.00" y="288.00" width="3.80" height="29.00" fill="#ebebeb" stroke="none" stroke-width="1" filter="url(#bl2)"/>
<rect x="328.80" y="288.00" width="3.20" height="29.00" fill="#ebebeb" stroke="none" stroke-width="1" filter="url(#bl2)"/>
<rect x="357.50" y="288.00" width="3.00" height="29.00" fill="#ebebeb" stroke="none" stroke-width="1" filter="url(#bl2)"/>
<rect x="277.00" y="293.50" width="25.00" height="8.00" fill="#c9c9c9" stroke="none" stroke-width="1" filter="url(#bl2)" opacity="0.7"/>
<rect x="310.50" y="292.60" width="16.00" height="2.00" fill="#b8b8b8" stroke="none" stroke-width="1" filter="url(#bl3)"/>
<rect x="310.50" y="296.70" width="16.00" height="2.00" fill="#bebebe" stroke="none" stroke-width="1" filter="url(#bl3)"/>
<rect x="333.00" y="290.50" width="23.00" height="7.00" fill="#cdcdcd" stroke="none" stroke-width="1" filter="url(#bl2)" opacity="0.6"/>
<rect x="362.00" y="299.00" width="18.00" height="7.00" fill="#cfcfcf" stroke="none" stroke-width="1" filter="url(#bl2)" opacity="0.6"/>
<path d="M277.6,303.5 L301.6,303.0" stroke="#0c0c0c" stroke-width="2.9" stroke-linecap="round" filter="url(#bl1)"/>
<path d="M309.9,310.6 L327.0,310.2" stroke="#0c0c0c" stroke-width="2.9" stroke-linecap="round" filter="url(#bl1)"/>
<path d="M333.6,300.0 L355.2,299.4" stroke="#0c0c0c" stroke-width="2.9" stroke-linecap="round" filter="url(#bl1)"/>
<path d="M362.4,308.8 L380.0,308.3" stroke="#0c0c0c" stroke-width="2.9" stroke-linecap="round" filter="url(#bl1)"/>
</g>
<rect x="268.90" y="287.60" width="112.60" height="29.00" fill="none" stroke="#111" stroke-width="1.2"/>
<rect x="268.90" y="326.90" width="112.60" height="29.60" fill="#d3d3d3" stroke="none" stroke-width="1"/>
<clipPath id="cAC"><rect x="269.4" y="327.4" width="111.60000000000002" height="28.600000000000023"/></clipPath>
<g clip-path="url(#cAC)">
<rect x="269.40" y="327.00" width="3.50" height="30.00" fill="#dedede" stroke="none" stroke-width="1" filter="url(#bl2)"/>
<rect x="305.00" y="327.00" width="2.50" height="30.00" fill="#dedede" stroke="none" stroke-width="1" filter="url(#bl2)"/>
<rect x="328.80" y="327.00" width="2.60" height="30.00" fill="#dedede" stroke="none" stroke-width="1" filter="url(#bl2)"/>
<rect x="357.80" y="327.00" width="2.40" height="30.00" fill="#dedede" stroke="none" stroke-width="1" filter="url(#bl2)"/>
<path d="M277.0,343.9 L303.2,342.3" stroke="#242424" stroke-width="5.0" stroke-linecap="round" filter="url(#bl3)"/>
<path d="M308.8,341.8 L326.4,341.1" stroke="#242424" stroke-width="5.0" stroke-linecap="round" filter="url(#bl3)"/>
<path d="M333.2,339.8 L355.2,339.1" stroke="#242424" stroke-width="5.0" stroke-linecap="round" filter="url(#bl3)"/>
<path d="M362.0,338.5 L379.6,337.9" stroke="#242424" stroke-width="5.0" stroke-linecap="round" filter="url(#bl3)"/>
</g>
<rect x="268.90" y="326.90" width="112.60" height="29.60" fill="none" stroke="#111" stroke-width="1.2"/>
<text x="246.60" y="306.40" font-size="7.6" text-anchor="start" fill="#231f20" stroke="#231f20" stroke-width="0.18" textLength="10.10" lengthAdjust="spacingAndGlyphs" xml:space="preserve">HA</text>
<text x="240.00" y="344.30" font-size="7.6" text-anchor="start" fill="#231f20" stroke="#231f20" stroke-width="0.18" textLength="17.00" lengthAdjust="spacingAndGlyphs" xml:space="preserve">Actin</text>
<line x1="386.50" y1="293.70" x2="408.30" y2="293.70" stroke="#000" stroke-width="0.9"/>
<polygon points="382.70,293.70 387.60,291.90 386.60,293.70 387.60,295.50" fill="#000" stroke="none" stroke-width="1"/>
<line x1="386.50" y1="301.20" x2="408.30" y2="301.20" stroke="#000" stroke-width="0.9"/>
<polygon points="382.70,301.20 387.60,299.40 386.60,301.20 387.60,303.00" fill="#000" stroke="none" stroke-width="1"/>
<text x="411.90" y="295.90" font-size="7.85" text-anchor="start" fill="#231f20" stroke="#231f20" stroke-width="0.18" textLength="93.00" lengthAdjust="spacingAndGlyphs" xml:space="preserve">MPL 85 kDa (mature form)</text>
<text x="411.90" y="303.50" font-size="7.85" text-anchor="start" fill="#231f20" stroke="#231f20" stroke-width="0.18" textLength="100.50" lengthAdjust="spacingAndGlyphs" xml:space="preserve">MPL 80 kDa (immature form)</text>
<text x="7.30" y="375.60" font-size="12" text-anchor="start" font-weight="bold" fill="#000" textLength="8.60" lengthAdjust="spacingAndGlyphs" xml:space="preserve">D</text>
<line x1="38.90" y1="394.00" x2="38.90" y2="548.60" stroke="#000" stroke-width="1.2"/>
<polygon points="38.90,385.40 43.10,396.00 38.90,393.70 34.70,396.00" fill="#000" stroke="none" stroke-width="1"/>
<line x1="38.90" y1="548.60" x2="342.20" y2="548.60" stroke="#000" stroke-width="1.2"/>
<polygon points="350.80,548.60 340.20,544.50 342.50,548.60 340.20,552.70" fill="#000" stroke="none" stroke-width="1"/>
<text x="0.00" y="0.00" font-size="10.2" text-anchor="middle" fill="#231f20" stroke="#231f20" stroke-width="0.18" textLength="63.60" lengthAdjust="spacingAndGlyphs" transform="translate(28.4,470.8) rotate(-90)" xml:space="preserve">Number of cells</text>
<rect x="64.70" y="397.40" width="117.80" height="118.00" fill="#fff" stroke="#000" stroke-width="1.3"/>
<line x1="61.40" y1="515.40" x2="64.70" y2="515.40" stroke="#000" stroke-width="1.1"/>
<text x="58.30" y="518.45" font-size="8.4" text-anchor="end" fill="#231f20" stroke="#231f20" stroke-width="0.18" textLength="4.70" lengthAdjust="spacingAndGlyphs" xml:space="preserve">0</text>
<line x1="62.70" y1="509.77" x2="64.70" y2="509.77" stroke="#000" stroke-width="1.0"/>
<line x1="62.70" y1="504.15" x2="64.70" y2="504.15" stroke="#000" stroke-width="1.0"/>
<line x1="62.70" y1="498.52" x2="64.70" y2="498.52" stroke="#000" stroke-width="1.0"/>
<line x1="61.40" y1="492.90" x2="64.70" y2="492.90" stroke="#000" stroke-width="1.1"/>
<text x="58.30" y="495.95" font-size="8.4" text-anchor="end" fill="#231f20" stroke="#231f20" stroke-width="0.18" textLength="9.30" lengthAdjust="spacingAndGlyphs" xml:space="preserve">20</text>
<line x1="62.70" y1="487.27" x2="64.70" y2="487.27" stroke="#000" stroke-width="1.0"/>
<line x1="62.70" y1="481.65" x2="64.70" y2="481.65" stroke="#000" stroke-width="1.0"/>
<line x1="62.70" y1="476.02" x2="64.70" y2="476.02" stroke="#000" stroke-width="1.0"/>
<line x1="61.40" y1="470.40" x2="64.70" y2="470.40" stroke="#000" stroke-width="1.1"/>
<text x="58.30" y="473.45" font-size="8.4" text-anchor="end" fill="#231f20" stroke="#231f20" stroke-width="0.18" textLength="9.30" lengthAdjust="spacingAndGlyphs" xml:space="preserve">40</text>
<line x1="62.70" y1="464.77" x2="64.70" y2="464.77" stroke="#000" stroke-width="1.0"/>
<line x1="62.70" y1="459.15" x2="64.70" y2="459.15" stroke="#000" stroke-width="1.0"/>
<line x1="62.70" y1="453.52" x2="64.70" y2="453.52" stroke="#000" stroke-width="1.0"/>
<line x1="61.40" y1="447.90" x2="64.70" y2="447.90" stroke="#000" stroke-width="1.1"/>
<text x="58.30" y="450.95" font-size="8.4" text-anchor="end" fill="#231f20" stroke="#231f20" stroke-width="0.18" textLength="9.30" lengthAdjust="spacingAndGlyphs" xml:space="preserve">60</text>
<line x1="62.70" y1="442.27" x2="64.70" y2="442.27" stroke="#000" stroke-width="1.0"/>
<line x1="62.70" y1="436.65" x2="64.70" y2="436.65" stroke="#000" stroke-width="1.0"/>
<line x1="62.70" y1="431.02" x2="64.70" y2="431.02" stroke="#000" stroke-width="1.0"/>
<line x1="61.40" y1="425.40" x2="64.70" y2="425.40" stroke="#000" stroke-width="1.1"/>
<text x="58.30" y="428.45" font-size="8.4" text-anchor="end" fill="#231f20" stroke="#231f20" stroke-width="0.18" textLength="9.30" lengthAdjust="spacingAndGlyphs" xml:space="preserve">80</text>
<line x1="62.70" y1="419.77" x2="64.70" y2="419.77" stroke="#000" stroke-width="1.0"/>
<line x1="62.70" y1="414.15" x2="64.70" y2="414.15" stroke="#000" stroke-width="1.0"/>
<line x1="62.70" y1="408.52" x2="64.70" y2="408.52" stroke="#000" stroke-width="1.0"/>
<line x1="61.40" y1="402.90" x2="64.70" y2="402.90" stroke="#000" stroke-width="1.1"/>
<text x="58.30" y="405.95" font-size="8.4" text-anchor="end" fill="#231f20" stroke="#231f20" stroke-width="0.18" textLength="13.30" lengthAdjust="spacingAndGlyphs" xml:space="preserve">100</text>
<line x1="76.50" y1="515.40" x2="76.50" y2="518.70" stroke="#000" stroke-width="1.1"/>
<line x1="72.13" y1="515.40" x2="72.13" y2="517.60" stroke="#000" stroke-width="0.95"/>
<line x1="67.77" y1="515.40" x2="67.77" y2="517.60" stroke="#000" stroke-width="0.95"/>
<line x1="80.87" y1="515.40" x2="80.87" y2="517.60" stroke="#000" stroke-width="0.95"/>
<line x1="85.23" y1="515.40" x2="85.23" y2="517.60" stroke="#000" stroke-width="0.95"/>
<line x1="89.60" y1="515.40" x2="89.60" y2="518.70" stroke="#000" stroke-width="1.1"/>
<line x1="98.21" y1="515.40" x2="98.21" y2="517.60" stroke="#000" stroke-width="0.95"/>
<line x1="103.25" y1="515.40" x2="103.25" y2="517.60" stroke="#000" stroke-width="0.95"/>
<line x1="106.82" y1="515.40" x2="106.82" y2="517.60" stroke="#000" stroke-width="0.95"/>
<line x1="109.59" y1="515.40" x2="109.59" y2="517.60" stroke="#000" stroke-width="0.95"/>
<line x1="111.86" y1="515.40" x2="111.86" y2="517.60" stroke="#000" stroke-width="0.95"/>
<line x1="113.77" y1="515.40" x2="113.77" y2="517.60" stroke="#000" stroke-width="0.95"/>
<line x1="115.43" y1="515.40" x2="115.43" y2="517.60" stroke="#000" stroke-width="0.95"/>
<line x1="116.89" y1="515.40" x2="116.89" y2="517.60" stroke="#000" stroke-width="0.95"/>
<line x1="118.20" y1="515.40" x2="118.20" y2="518.70" stroke="#000" stroke-width="1.1"/>
<line x1="126.42" y1="515.40" x2="126.42" y2="517.60" stroke="#000" stroke-width="0.95"/>
<line x1="131.23" y1="515.40" x2="131.23" y2="517.60" stroke="#000" stroke-width="0.95"/>
<line x1="134.64" y1="515.40" x2="134.64" y2="517.60" stroke="#000" stroke-width="0.95"/>
<line x1="137.28" y1="515.40" x2="137.28" y2="517.60" stroke="#000" stroke-width="0.95"/>
<line x1="139.44" y1="515.40" x2="139.44" y2="517.60" stroke="#000" stroke-width="0.95"/>
<line x1="141.27" y1="515.40" x2="141.27" y2="517.60" stroke="#000" stroke-width="0.95"/>
<line x1="142.85" y1="515.40" x2="142.85" y2="517.60" stroke="#000" stroke-width="0.95"/>
<line x1="144.25" y1="515.40" x2="144.25" y2="517.60" stroke="#000" stroke-width="0.95"/>
<line x1="145.50" y1="515.40" x2="145.50" y2="518.70" stroke="#000" stroke-width="1.1"/>
<line x1="153.66" y1="515.40" x2="153.66" y2="517.60" stroke="#000" stroke-width="0.95"/>
<line x1="158.43" y1="515.40" x2="158.43" y2="517.60" stroke="#000" stroke-width="0.95"/>
<line x1="161.82" y1="515.40" x2="161.82" y2="517.60" stroke="#000" stroke-width="0.95"/>
<line x1="164.44" y1="515.40" x2="164.44" y2="517.60" stroke="#000" stroke-width="0.95"/>
<line x1="166.59" y1="515.40" x2="166.59" y2="517.60" stroke="#000" stroke-width="0.95"/>
<line x1="168.40" y1="515.40" x2="168.40" y2="517.60" stroke="#000" stroke-width="0.95"/>
<line x1="169.97" y1="515.40" x2="169.97" y2="517.60" stroke="#000" stroke-width="0.95"/>
<line x1="171.36" y1="515.40" x2="171.36" y2="517.60" stroke="#000" stroke-width="0.95"/>
<line x1="172.60" y1="515.40" x2="172.60" y2="518.70" stroke="#000" stroke-width="1.1"/>
<line x1="180.76" y1="515.40" x2="180.76" y2="517.60" stroke="#000" stroke-width="0.95"/>
<text x="76.50" y="529.30" font-size="8.3" text-anchor="middle" fill="#231f20" stroke="#231f20" stroke-width="0.18" textLength="4.60" lengthAdjust="spacingAndGlyphs" xml:space="preserve">0</text>
<text x="83.00" y="529.30" font-size="8.3" text-anchor="start" fill="#231f20" stroke="#231f20" stroke-width="0.18" textLength="9.30" lengthAdjust="spacingAndGlyphs" xml:space="preserve">10</text>
<text x="92.30" y="526.00" font-size="5.4" text-anchor="start" fill="#231f20" stroke="#231f20" stroke-width="0.08" textLength="3.40" lengthAdjust="spacingAndGlyphs" xml:space="preserve">2</text>
<text x="111.60" y="529.30" font-size="8.3" text-anchor="start" fill="#231f20" stroke="#231f20" stroke-width="0.18" textLength="9.30" lengthAdjust="spacingAndGlyphs" xml:space="preserve">10</text>
<text x="120.90" y="526.00" font-size="5.4" text-anchor="start" fill="#231f20" stroke="#231f20" stroke-width="0.08" textLength="3.40" lengthAdjust="spacingAndGlyphs" xml:space="preserve">3</text>
<text x="138.90" y="529.30" font-size="8.3" text-anchor="start" fill="#231f20" stroke="#231f20" stroke-width="0.18" textLength="9.30" lengthAdjust="spacingAndGlyphs" xml:space="preserve">10</text>
<text x="148.20" y="526.00" font-size="5.4" text-anchor="start" fill="#231f20" stroke="#231f20" stroke-width="0.08" textLength="3.40" lengthAdjust="spacingAndGlyphs" xml:space="preserve">4</text>
<text x="166.00" y="529.30" font-size="8.3" text-anchor="start" fill="#231f20" stroke="#231f20" stroke-width="0.18" textLength="9.30" lengthAdjust="spacingAndGlyphs" xml:space="preserve">10</text>
<text x="175.30" y="526.00" font-size="5.4" text-anchor="start" fill="#231f20" stroke="#231f20" stroke-width="0.08" textLength="3.40" lengthAdjust="spacingAndGlyphs" xml:space="preserve">5</text>
<rect x="210.40" y="397.40" width="120.40" height="118.00" fill="#fff" stroke="#000" stroke-width="1.3"/>
<line x1="207.10" y1="515.40" x2="210.40" y2="515.40" stroke="#000" stroke-width="1.1"/>
<text x="204.30" y="518.45" font-size="8.4" text-anchor="end" fill="#231f20" stroke="#231f20" stroke-width="0.18" textLength="4.70" lengthAdjust="spacingAndGlyphs" xml:space="preserve">0</text>
<line x1="208.40" y1="509.77" x2="210.40" y2="509.77" stroke="#000" stroke-width="1.0"/>
<line x1="208.40" y1="504.15" x2="210.40" y2="504.15" stroke="#000" stroke-width="1.0"/>
<line x1="208.40" y1="498.52" x2="210.40" y2="498.52" stroke="#000" stroke-width="1.0"/>
<line x1="207.10" y1="492.90" x2="210.40" y2="492.90" stroke="#000" stroke-width="1.1"/>
<text x="204.30" y="495.95" font-size="8.4" text-anchor="end" fill="#231f20" stroke="#231f20" stroke-width="0.18" textLength="9.30" lengthAdjust="spacingAndGlyphs" xml:space="preserve">20</text>
<line x1="208.40" y1="487.27" x2="210.40" y2="487.27" stroke="#000" stroke-width="1.0"/>
<line x1="208.40" y1="481.65" x2="210.40" y2="481.65" stroke="#000" stroke-width="1.0"/>
<line x1="208.40" y1="476.02" x2="210.40" y2="476.02" stroke="#000" stroke-width="1.0"/>
<line x1="207.10" y1="470.40" x2="210.40" y2="470.40" stroke="#000" stroke-width="1.1"/>
<text x="204.30" y="473.45" font-size="8.4" text-anchor="end" fill="#231f20" stroke="#231f20" stroke-width="0.18" textLength="9.30" lengthAdjust="spacingAndGlyphs" xml:space="preserve">40</text>
<line x1="208.40" y1="464.77" x2="210.40" y2="464.77" stroke="#000" stroke-width="1.0"/>
<line x1="208.40" y1="459.15" x2="210.40" y2="459.15" stroke="#000" stroke-width="1.0"/>
<line x1="208.40" y1="453.52" x2="210.40" y2="453.52" stroke="#000" stroke-width="1.0"/>
<line x1="207.10" y1="447.90" x2="210.40" y2="447.90" stroke="#000" stroke-width="1.1"/>
<text x="204.30" y="450.95" font-size="8.4" text-anchor="end" fill="#231f20" stroke="#231f20" stroke-width="0.18" textLength="9.30" lengthAdjust="spacingAndGlyphs" xml:space="preserve">60</text>
<line x1="208.40" y1="442.27" x2="210.40" y2="442.27" stroke="#000" stroke-width="1.0"/>
<line x1="208.40" y1="436.65" x2="210.40" y2="436.65" stroke="#000" stroke-width="1.0"/>
<line x1="208.40" y1="431.02" x2="210.40" y2="431.02" stroke="#000" stroke-width="1.0"/>
<line x1="207.10" y1="425.40" x2="210.40" y2="425.40" stroke="#000" stroke-width="1.1"/>
<text x="204.30" y="428.45" font-size="8.4" text-anchor="end" fill="#231f20" stroke="#231f20" stroke-width="0.18" textLength="9.30" lengthAdjust="spacingAndGlyphs" xml:space="preserve">80</text>
<line x1="208.40" y1="419.77" x2="210.40" y2="419.77" stroke="#000" stroke-width="1.0"/>
<line x1="208.40" y1="414.15" x2="210.40" y2="414.15" stroke="#000" stroke-width="1.0"/>
<line x1="208.40" y1="408.52" x2="210.40" y2="408.52" stroke="#000" stroke-width="1.0"/>
<line x1="207.10" y1="402.90" x2="210.40" y2="402.90" stroke="#000" stroke-width="1.1"/>
<text x="204.30" y="405.95" font-size="8.4" text-anchor="end" fill="#231f20" stroke="#231f20" stroke-width="0.18" textLength="13.30" lengthAdjust="spacingAndGlyphs" xml:space="preserve">100</text>
<line x1="223.30" y1="515.40" x2="223.30" y2="518.70" stroke="#000" stroke-width="1.1"/>
<line x1="219.00" y1="515.40" x2="219.00" y2="517.60" stroke="#000" stroke-width="0.95"/>
<line x1="214.70" y1="515.40" x2="214.70" y2="517.60" stroke="#000" stroke-width="0.95"/>
<line x1="227.60" y1="515.40" x2="227.60" y2="517.60" stroke="#000" stroke-width="0.95"/>
<line x1="231.90" y1="515.40" x2="231.90" y2="517.60" stroke="#000" stroke-width="0.95"/>
<line x1="236.20" y1="515.40" x2="236.20" y2="518.70" stroke="#000" stroke-width="1.1"/>
<line x1="244.75" y1="515.40" x2="244.75" y2="517.60" stroke="#000" stroke-width="0.95"/>
<line x1="249.75" y1="515.40" x2="249.75" y2="517.60" stroke="#000" stroke-width="0.95"/>
<line x1="253.30" y1="515.40" x2="253.30" y2="517.60" stroke="#000" stroke-width="0.95"/>
<line x1="256.05" y1="515.40" x2="256.05" y2="517.60" stroke="#000" stroke-width="0.95"/>
<line x1="258.30" y1="515.40" x2="258.30" y2="517.60" stroke="#000" stroke-width="0.95"/>
<line x1="260.20" y1="515.40" x2="260.20" y2="517.60" stroke="#000" stroke-width="0.95"/>
<line x1="261.85" y1="515.40" x2="261.85" y2="517.60" stroke="#000" stroke-width="0.95"/>
<line x1="263.30" y1="515.40" x2="263.30" y2="517.60" stroke="#000" stroke-width="0.95"/>
<line x1="264.60" y1="515.40" x2="264.60" y2="518.70" stroke="#000" stroke-width="1.1"/>
<line x1="272.91" y1="515.40" x2="272.91" y2="517.60" stroke="#000" stroke-width="0.95"/>
<line x1="277.77" y1="515.40" x2="277.77" y2="517.60" stroke="#000" stroke-width="0.95"/>
<line x1="281.22" y1="515.40" x2="281.22" y2="517.60" stroke="#000" stroke-width="0.95"/>
<line x1="283.89" y1="515.40" x2="283.89" y2="517.60" stroke="#000" stroke-width="0.95"/>
<line x1="286.08" y1="515.40" x2="286.08" y2="517.60" stroke="#000" stroke-width="0.95"/>
<line x1="287.92" y1="515.40" x2="287.92" y2="517.60" stroke="#000" stroke-width="0.95"/>
<line x1="289.53" y1="515.40" x2="289.53" y2="517.60" stroke="#000" stroke-width="0.95"/>
<line x1="290.94" y1="515.40" x2="290.94" y2="517.60" stroke="#000" stroke-width="0.95"/>
<line x1="292.20" y1="515.40" x2="292.20" y2="518.70" stroke="#000" stroke-width="1.1"/>
<line x1="300.45" y1="515.40" x2="300.45" y2="517.60" stroke="#000" stroke-width="0.95"/>
<line x1="305.27" y1="515.40" x2="305.27" y2="517.60" stroke="#000" stroke-width="0.95"/>
<line x1="308.70" y1="515.40" x2="308.70" y2="517.60" stroke="#000" stroke-width="0.95"/>
<line x1="311.35" y1="515.40" x2="311.35" y2="517.60" stroke="#000" stroke-width="0.95"/>
<line x1="313.52" y1="515.40" x2="313.52" y2="517.60" stroke="#000" stroke-width="0.95"/>
<line x1="315.36" y1="515.40" x2="315.36" y2="517.60" stroke="#000" stroke-width="0.95"/>
<line x1="316.94" y1="515.40" x2="316.94" y2="517.60" stroke="#000" stroke-width="0.95"/>
<line x1="318.35" y1="515.40" x2="318.35" y2="517.60" stroke="#000" stroke-width="0.95"/>
<line x1="319.60" y1="515.40" x2="319.60" y2="518.70" stroke="#000" stroke-width="1.1"/>
<line x1="327.85" y1="515.40" x2="327.85" y2="517.60" stroke="#000" stroke-width="0.95"/>
<text x="223.30" y="529.30" font-size="8.3" text-anchor="middle" fill="#231f20" stroke="#231f20" stroke-width="0.18" textLength="4.60" lengthAdjust="spacingAndGlyphs" xml:space="preserve">0</text>
<text x="229.60" y="529.30" font-size="8.3" text-anchor="start" fill="#231f20" stroke="#231f20" stroke-width="0.18" textLength="9.30" lengthAdjust="spacingAndGlyphs" xml:space="preserve">10</text>
<text x="238.90" y="526.00" font-size="5.4" text-anchor="start" fill="#231f20" stroke="#231f20" stroke-width="0.08" textLength="3.40" lengthAdjust="spacingAndGlyphs" xml:space="preserve">2</text>
<text x="258.00" y="529.30" font-size="8.3" text-anchor="start" fill="#231f20" stroke="#231f20" stroke-width="0.18" textLength="9.30" lengthAdjust="spacingAndGlyphs" xml:space="preserve">10</text>
<text x="267.30" y="526.00" font-size="5.4" text-anchor="start" fill="#231f20" stroke="#231f20" stroke-width="0.08" textLength="3.40" lengthAdjust="spacingAndGlyphs" xml:space="preserve">3</text>
<text x="285.60" y="529.30" font-size="8.3" text-anchor="start" fill="#231f20" stroke="#231f20" stroke-width="0.18" textLength="9.30" lengthAdjust="spacingAndGlyphs" xml:space="preserve">10</text>
<text x="294.90" y="526.00" font-size="5.4" text-anchor="start" fill="#231f20" stroke="#231f20" stroke-width="0.08" textLength="3.40" lengthAdjust="spacingAndGlyphs" xml:space="preserve">4</text>
<text x="313.00" y="529.30" font-size="8.3" text-anchor="start" fill="#231f20" stroke="#231f20" stroke-width="0.18" textLength="9.30" lengthAdjust="spacingAndGlyphs" xml:space="preserve">10</text>
<text x="322.30" y="526.00" font-size="5.4" text-anchor="start" fill="#231f20" stroke="#231f20" stroke-width="0.08" textLength="3.40" lengthAdjust="spacingAndGlyphs" xml:space="preserve">5</text>
<text x="123.70" y="390.60" font-size="10.1" text-anchor="middle" fill="#231f20" stroke="#231f20" stroke-width="0.18" textLength="16.00" lengthAdjust="spacingAndGlyphs" xml:space="preserve">WT</text>
<text x="271.00" y="392.20" font-size="9.7" text-anchor="middle" fill="#231f20" stroke="#231f20" stroke-width="0.18" textLength="29.00" lengthAdjust="spacingAndGlyphs" xml:space="preserve">P106L</text>
<text x="108.50" y="541.80" font-size="8.3" text-anchor="start" fill="#231f20" stroke="#231f20" stroke-width="0.18" textLength="31.20" lengthAdjust="spacingAndGlyphs" xml:space="preserve">&lt;PE-A&gt;</text>
<text x="255.70" y="541.80" font-size="8.3" text-anchor="start" fill="#231f20" stroke="#231f20" stroke-width="0.18" textLength="31.20" lengthAdjust="spacingAndGlyphs" xml:space="preserve">&lt;PE-A&gt;</text>
<text x="174.00" y="567.60" font-size="10.0" text-anchor="start" fill="#231f20" stroke="#231f20" stroke-width="0.18" textLength="34.00" lengthAdjust="spacingAndGlyphs" xml:space="preserve">MPL-HA</text>
<rect x="342.90" y="434.70" width="6.30" height="6.30" fill="#000" stroke="none" stroke-width="1"/>
<text x="351.80" y="440.60" font-size="7.85" text-anchor="start" fill="#231f20" stroke="#231f20" stroke-width="0.18" textLength="48.20" lengthAdjust="spacingAndGlyphs" xml:space="preserve">Ba/F3 Isotype</text>
<rect x="342.90" y="448.90" width="6.30" height="6.30" fill="#2c4a86" stroke="none" stroke-width="1"/>
<text x="351.80" y="454.80" font-size="7.85" text-anchor="start" fill="#231f20" stroke="#231f20" stroke-width="0.18" textLength="39.60" lengthAdjust="spacingAndGlyphs" xml:space="preserve">Ba/F3 MPL</text>
<rect x="342.90" y="463.50" width="6.30" height="6.30" fill="#b0103e" stroke="none" stroke-width="1"/>
<text x="351.80" y="469.40" font-size="7.85" text-anchor="start" fill="#231f20" stroke="#231f20" stroke-width="0.18" textLength="67.40" lengthAdjust="spacingAndGlyphs" xml:space="preserve">Ba/F3 MPL + JAK2</text>
<clipPath id="cD1"><rect x="64.7" y="397.9" width="117.8" height="117.70000000000005"/></clipPath>
<g clip-path="url(#cD1)">
<path d="M64.90,497.00 L64.95,499.63 L65.03,503.50 L65.13,507.24 L65.30,509.50 L65.53,509.68 L65.82,508.57 L66.15,506.94 L66.50,505.50 L66.86,504.39 L67.26,503.23 L67.67,502.03 L68.10,500.80 L68.56,499.51 L69.04,498.17 L69.52,496.82 L70.00,495.50 L70.46,494.24 L70.91,493.00 L71.36,491.76 L71.80,490.50 L72.24,489.19 L72.67,487.86 L73.09,486.52 L73.50,485.20 L73.88,483.92 L74.24,482.67 L74.61,481.39 L75.00,480.00 L75.44,478.47 L75.91,476.83 L76.37,475.16 L76.80,473.50 L77.18,471.88 L77.52,470.25 L77.86,468.62 L78.20,467.00 L78.55,465.39 L78.91,463.78 L79.26,462.16 L79.60,460.50 L79.94,458.79 L80.27,457.03 L80.59,455.26 L80.90,453.50 L81.20,451.74 L81.48,449.97 L81.75,448.21 L82.00,446.50 L82.21,444.84 L82.39,443.22 L82.58,441.61 L82.80,440.00 L83.07,438.38 L83.36,436.75 L83.68,435.12 L84.00,433.50 L84.34,431.86 L84.70,430.22 L85.06,428.59 L85.40,427.00 L85.71,425.46 L86.01,423.97 L86.30,422.49 L86.60,421.00 L86.90,419.50 L87.20,418.00 L87.50,416.50 L87.80,415.00 L88.10,413.46 L88.41,411.89 L88.71,410.37 L89.00,409.00 L89.27,407.74 L89.53,406.56 L89.78,405.55 L90.00,404.80 L90.20,404.28 L90.37,403.97 L90.53,403.92 L90.70,404.20 L90.88,404.98 L91.05,406.18 L91.23,407.46 L91.40,408.50 L91.58,409.30 L91.75,410.01 L91.92,410.49 L92.10,410.60 L92.27,410.17 L92.44,409.31 L92.61,408.34 L92.80,407.60 L93.01,407.05 L93.24,406.56 L93.47,406.29 L93.70,406.40 L93.92,406.97 L94.15,407.91 L94.38,409.11 L94.60,410.50 L94.83,412.09 L95.06,413.91 L95.28,415.90 L95.50,418.00 L95.70,420.30 L95.90,422.81 L96.10,425.29 L96.30,427.50 L96.52,429.34 L96.75,430.94 L96.98,432.45 L97.20,434.00 L97.41,435.60 L97.61,437.19 L97.80,438.80 L98.00,440.50 L98.20,442.27 L98.41,444.09 L98.61,446.00 L98.80,448.00 L98.98,450.17 L99.15,452.47 L99.32,454.79 L99.50,457.00 L99.70,459.09 L99.90,461.12 L100.10,463.09 L100.30,465.00 L100.48,466.82 L100.66,468.56 L100.83,470.27 L101.00,472.00 L101.17,473.76 L101.35,475.53 L101.53,477.29 L101.70,479.00 L101.87,480.64 L102.04,482.22 L102.22,483.82 L102.40,485.50 L102.59,487.33 L102.78,489.25 L102.98,491.17 L103.20,493.00 L103.43,494.72 L103.68,496.39 L103.93,497.98 L104.20,499.50 L104.48,500.95 L104.78,502.33 L105.09,503.62 L105.40,504.80 L105.71,505.85 L106.03,506.79 L106.36,507.65 L106.70,508.50 L107.04,509.35 L107.38,510.16 L107.76,510.92 L108.20,511.60 L108.71,512.18 L109.28,512.69 L109.91,513.12 L110.60,513.50 L111.32,513.81 L112.07,514.04 L112.94,514.23 L114.00,514.40 L113.99,514.54 L113.31,514.65 L114.47,514.73 L120.00,514.80 L133.12,514.85 L151.62,514.88 L169.95,514.89 L182.50,514.90" fill="none" stroke="#000" stroke-width="1.875" stroke-linejoin="round" stroke-linecap="round"/>
<path d="M64.90,514.90 L65.55,514.81 L66.46,514.69 L67.57,514.53 L68.80,514.30 L70.16,514.01 L71.69,513.67 L73.32,513.27 L75.00,512.80 L76.79,512.24 L78.68,511.60 L80.56,510.93 L82.30,510.30 L83.85,509.73 L85.29,509.19 L86.65,508.63 L88.00,508.00 L89.36,507.29 L90.71,506.51 L91.98,505.71 L93.10,504.90 L94.03,504.09 L94.82,503.27 L95.53,502.44 L96.20,501.60 L96.84,500.80 L97.41,500.03 L97.96,499.16 L98.50,498.10 L99.04,496.79 L99.57,495.29 L100.09,493.68 L100.60,492.00 L101.10,490.27 L101.59,488.46 L102.06,486.56 L102.50,484.60 L102.91,482.54 L103.29,480.40 L103.66,478.21 L104.00,476.00 L104.33,473.80 L104.63,471.59 L104.92,469.33 L105.20,467.00 L105.46,464.55 L105.71,462.00 L105.95,459.45 L106.20,457.00 L106.47,454.66 L106.76,452.38 L107.04,450.16 L107.30,448.00 L107.53,445.91 L107.75,443.88 L107.97,441.91 L108.20,440.00 L108.46,438.16 L108.74,436.38 L109.03,434.66 L109.30,433.00 L109.56,431.48 L109.81,430.06 L110.05,428.62 L110.30,427.00 L110.55,425.14 L110.80,423.12 L111.05,421.05 L111.30,419.00 L111.55,416.93 L111.81,414.81 L112.06,412.79 L112.30,411.00 L112.53,409.46 L112.76,408.10 L112.98,406.94 L113.20,406.00 L113.41,405.27 L113.61,404.76 L113.80,404.46 L114.00,404.40 L114.20,404.59 L114.40,405.01 L114.60,405.65 L114.80,406.50 L115.00,407.57 L115.20,408.85 L115.40,410.33 L115.60,412.00 L115.80,413.94 L116.00,416.12 L116.20,418.38 L116.40,420.50 L116.60,422.47 L116.79,424.38 L116.99,426.22 L117.20,428.00 L117.42,429.70 L117.64,431.31 L117.87,432.90 L118.10,434.50 L118.32,436.09 L118.54,437.66 L118.77,439.27 L119.00,441.00 L119.25,442.89 L119.50,444.91 L119.75,446.96 L120.00,449.00 L120.23,451.00 L120.44,453.00 L120.66,455.00 L120.90,457.00 L121.16,459.02 L121.44,461.04 L121.72,463.05 L122.00,465.00 L122.27,466.84 L122.54,468.61 L122.81,470.39 L123.10,472.30 L123.41,474.38 L123.74,476.57 L124.07,478.80 L124.40,481.00 L124.72,483.19 L125.03,485.38 L125.35,487.54 L125.70,489.60 L126.09,491.56 L126.52,493.44 L126.96,495.25 L127.40,497.00 L127.84,498.70 L128.29,500.34 L128.75,501.91 L129.20,503.40 L129.65,504.80 L130.10,506.13 L130.55,507.37 L131.00,508.50 L131.44,509.52 L131.88,510.43 L132.32,511.25 L132.80,512.00 L133.26,512.68 L133.70,513.27 L134.24,513.79 L135.00,514.20 L135.17,514.50 L134.98,514.69 L136.05,514.81 L140.00,514.90 L148.98,514.95 L161.56,514.94 L173.98,514.92 L182.50,514.90" fill="none" stroke="#2c4a86" stroke-width="1.75" stroke-linejoin="round" stroke-linecap="round"/>
<path d="M64.90,514.90 L65.02,514.84 L65.17,514.76 L65.46,514.64 L66.00,514.50 L66.87,514.32 L68.01,514.11 L69.26,513.86 L70.50,513.60 L71.70,513.31 L72.94,513.00 L74.20,512.66 L75.50,512.30 L76.84,511.90 L78.23,511.47 L79.63,511.03 L81.00,510.60 L82.35,510.19 L83.70,509.79 L85.02,509.37 L86.30,508.90 L87.51,508.39 L88.68,507.84 L89.83,507.25 L91.00,506.60 L92.22,505.91 L93.46,505.18 L94.68,504.38 L95.80,503.50 L96.82,502.53 L97.76,501.48 L98.65,500.37 L99.50,499.20 L100.32,497.97 L101.09,496.67 L101.82,495.34 L102.50,494.00 L103.14,492.66 L103.73,491.31 L104.28,489.95 L104.80,488.60 L105.29,487.30 L105.74,486.04 L106.17,484.71 L106.60,483.20 L107.03,481.46 L107.46,479.54 L107.88,477.54 L108.30,475.50 L108.74,473.47 L109.19,471.39 L109.62,469.25 L110.00,467.00 L110.30,464.61 L110.54,462.09 L110.77,459.54 L111.00,457.00 L111.24,454.48 L111.48,451.94 L111.72,449.43 L112.00,447.00 L112.32,444.70 L112.66,442.50 L113.03,440.30 L113.40,438.00 L113.79,435.54 L114.21,432.97 L114.62,430.42 L115.00,428.00 L115.35,425.75 L115.67,423.59 L115.99,421.52 L116.30,419.50 L116.61,417.50 L116.92,415.53 L117.22,413.68 L117.50,412.00 L117.76,410.52 L118.01,409.19 L118.25,408.02 L118.50,407.00 L118.77,406.09 L119.05,405.32 L119.33,404.73 L119.60,404.40 L119.86,404.38 L120.11,404.63 L120.36,405.04 L120.60,405.50 L120.83,405.97 L121.06,406.51 L121.28,407.17 L121.50,408.00 L121.71,409.06 L121.91,410.31 L122.11,411.66 L122.30,413.00 L122.48,414.36 L122.66,415.78 L122.83,417.18 L123.00,418.50 L123.17,419.68 L123.35,420.78 L123.53,421.86 L123.70,423.00 L123.87,424.19 L124.03,425.41 L124.20,426.67 L124.40,428.00 L124.65,429.43 L124.93,430.94 L125.22,432.48 L125.50,434.00 L125.76,435.44 L126.01,436.84 L126.26,438.32 L126.50,440.00 L126.73,441.95 L126.96,444.09 L127.18,446.32 L127.40,448.50 L127.62,450.64 L127.83,452.78 L128.05,454.91 L128.30,457.00 L128.59,459.05 L128.92,461.07 L129.26,463.06 L129.60,465.00 L129.95,466.84 L130.30,468.61 L130.65,470.39 L131.00,472.30 L131.33,474.38 L131.66,476.57 L131.98,478.80 L132.30,481.00 L132.59,483.19 L132.85,485.38 L133.14,487.54 L133.50,489.60 L133.96,491.56 L134.48,493.44 L135.04,495.25 L135.60,497.00 L136.18,498.72 L136.77,500.40 L137.36,501.98 L137.90,503.40 L138.37,504.62 L138.79,505.69 L139.20,506.66 L139.60,507.60 L139.98,508.51 L140.34,509.36 L140.72,510.18 L141.20,511.00 L141.79,511.87 L142.46,512.77 L143.17,513.58 L143.90,514.20 L143.89,514.57 L143.40,514.75 L143.94,514.83 L147.00,514.90 L154.43,514.95 L164.94,514.94 L175.36,514.92 L182.50,514.90" fill="none" stroke="#b0103e" stroke-width="1.875" stroke-linejoin="round" stroke-linecap="round"/>
</g>
<clipPath id="cD2"><rect x="210.4" y="397.9" width="120.4" height="117.70000000000005"/></clipPath>
<g clip-path="url(#cD2)">
<path d="M211.00,488.00 L210.94,492.28 L210.84,498.56 L210.82,504.70 L211.00,508.60 L211.44,509.36 L212.08,508.21 L212.80,506.24 L213.50,504.50 L214.17,503.17 L214.86,501.71 L215.54,500.15 L216.20,498.50 L216.84,496.70 L217.46,494.78 L218.06,492.83 L218.60,491.00 L219.08,489.33 L219.51,487.74 L219.91,486.19 L220.30,484.60 L220.69,482.97 L221.07,481.34 L221.44,479.68 L221.80,478.00 L222.15,476.31 L222.48,474.62 L222.82,472.86 L223.20,471.00 L223.62,468.98 L224.07,466.84 L224.54,464.66 L225.00,462.50 L225.45,460.36 L225.91,458.22 L226.36,456.09 L226.80,454.00 L227.22,451.94 L227.62,449.91 L228.02,447.92 L228.40,446.00 L228.76,444.17 L229.11,442.41 L229.45,440.69 L229.80,439.00 L230.15,437.32 L230.50,435.66 L230.85,434.04 L231.20,432.50 L231.55,431.07 L231.90,429.72 L232.25,428.39 L232.60,427.00 L232.95,425.61 L233.30,424.22 L233.65,422.72 L234.00,421.00 L234.35,418.91 L234.70,416.56 L235.05,414.18 L235.40,412.00 L235.74,409.94 L236.08,407.93 L236.42,406.20 L236.80,405.00 L237.23,404.48 L237.71,404.49 L238.18,404.80 L238.60,405.20 L238.96,405.85 L239.28,406.80 L239.59,407.65 L239.90,408.00 L240.22,407.60 L240.53,406.70 L240.85,405.70 L241.20,405.00 L241.58,404.58 L241.99,404.27 L242.40,404.23 L242.80,404.60 L243.20,405.54 L243.61,406.93 L243.98,408.51 L244.30,410.00 L244.53,411.35 L244.69,412.69 L244.84,414.06 L245.00,415.50 L245.20,417.00 L245.40,418.54 L245.60,420.16 L245.80,421.90 L245.98,423.84 L246.15,425.94 L246.32,428.05 L246.50,430.00 L246.69,431.75 L246.89,433.38 L247.10,434.95 L247.30,436.50 L247.50,437.96 L247.71,439.34 L247.91,440.80 L248.10,442.50 L248.28,444.55 L248.46,446.84 L248.63,449.21 L248.80,451.50 L248.95,453.57 L249.09,455.53 L249.24,457.61 L249.40,460.00 L249.59,462.94 L249.79,466.25 L250.00,469.56 L250.20,472.50 L250.38,474.93 L250.56,477.06 L250.73,479.03 L250.90,481.00 L251.05,482.97 L251.18,484.87 L251.32,486.74 L251.50,488.60 L251.72,490.50 L251.97,492.40 L252.24,494.25 L252.50,496.00 L252.74,497.63 L252.97,499.16 L253.21,500.62 L253.50,502.00 L253.83,503.32 L254.20,504.56 L254.59,505.73 L255.00,506.80 L255.43,507.78 L255.87,508.67 L256.34,509.47 L256.80,510.20 L257.24,510.84 L257.68,511.39 L258.15,511.87 L258.70,512.30 L259.34,512.67 L260.05,512.98 L260.83,513.25 L261.70,513.50 L262.57,513.74 L263.47,513.94 L264.56,514.13 L266.00,514.30 L266.82,514.46 L267.28,514.59 L269.35,514.71 L275.00,514.80 L286.97,514.86 L303.46,514.88 L319.68,514.89 L330.80,514.90" fill="none" stroke="#2c4a86" stroke-width="1.75" stroke-linejoin="round" stroke-linecap="round"/>
<path d="M211.00,475.00 L210.96,481.77 L210.91,491.69 L210.89,501.51 L211.00,508.00 L211.23,509.84 L211.55,508.91 L211.97,506.77 L212.50,505.00 L213.20,503.85 L214.04,502.53 L214.91,501.07 L215.70,499.50 L216.39,497.75 L217.03,495.84 L217.63,493.89 L218.20,492.00 L218.72,490.21 L219.21,488.47 L219.66,486.74 L220.10,485.00 L220.52,483.27 L220.92,481.56 L221.31,479.82 L221.70,478.00 L222.09,476.11 L222.48,474.16 L222.88,472.13 L223.30,470.00 L223.76,467.71 L224.24,465.28 L224.73,462.84 L225.20,460.50 L225.64,458.32 L226.07,456.22 L226.49,454.14 L226.90,452.00 L227.32,449.71 L227.73,447.34 L228.13,445.05 L228.50,443.00 L228.82,441.29 L229.11,439.81 L229.39,438.43 L229.70,437.00 L230.05,435.48 L230.42,433.94 L230.80,432.43 L231.20,431.00 L231.62,429.69 L232.06,428.47 L232.50,427.26 L232.90,426.00 L233.25,424.73 L233.57,423.47 L233.88,422.10 L234.20,420.50 L234.52,418.56 L234.84,416.38 L235.17,414.12 L235.50,412.00 L235.85,409.88 L236.21,407.72 L236.57,405.82 L236.90,404.50 L237.19,403.91 L237.45,403.88 L237.71,404.15 L238.00,404.50 L238.33,405.07 L238.69,405.91 L239.06,406.67 L239.40,407.00 L239.70,406.66 L239.98,405.88 L240.27,405.03 L240.60,404.50 L241.00,404.33 L241.46,404.34 L241.91,404.56 L242.30,405.00 L242.62,405.72 L242.91,406.69 L243.16,407.81 L243.40,409.00 L243.62,410.25 L243.81,411.59 L244.00,413.02 L244.20,414.50 L244.42,416.02 L244.66,417.59 L244.89,419.25 L245.10,421.00 L245.29,422.93 L245.46,425.00 L245.63,427.07 L245.80,429.00 L245.98,430.73 L246.15,432.34 L246.33,433.91 L246.50,435.50 L246.68,437.07 L246.85,438.59 L247.03,440.20 L247.20,442.00 L247.38,444.07 L247.56,446.34 L247.73,448.69 L247.90,451.00 L248.05,453.17 L248.19,455.28 L248.34,457.50 L248.50,460.00 L248.69,462.97 L248.89,466.28 L249.10,469.57 L249.30,472.50 L249.48,474.93 L249.66,477.06 L249.83,479.03 L250.00,481.00 L250.15,482.97 L250.28,484.87 L250.42,486.74 L250.60,488.60 L250.82,490.50 L251.07,492.40 L251.34,494.25 L251.60,496.00 L251.84,497.63 L252.07,499.16 L252.31,500.62 L252.60,502.00 L252.93,503.32 L253.29,504.56 L253.69,505.73 L254.10,506.80 L254.53,507.78 L254.99,508.67 L255.47,509.47 L256.00,510.20 L256.57,510.84 L257.18,511.39 L257.83,511.87 L258.50,512.30 L259.18,512.67 L259.88,512.98 L260.63,513.25 L261.50,513.50 L262.41,513.74 L263.38,513.94 L264.52,514.13 L266.00,514.30 L266.84,514.46 L267.29,514.59 L269.35,514.71 L275.00,514.80 L286.97,514.86 L303.46,514.88 L319.68,514.89 L330.80,514.90" fill="none" stroke="#b0103e" stroke-width="1.75" stroke-linejoin="round" stroke-linecap="round"/>
<path d="M210.70,507.50 L211.10,506.70 L211.67,505.56 L212.34,504.27 L213.00,503.00 L213.68,501.82 L214.41,500.62 L215.13,499.37 L215.80,498.00 L216.40,496.49 L216.96,494.87 L217.49,493.19 L218.00,491.50 L218.49,489.78 L218.95,488.02 L219.39,486.28 L219.80,484.60 L220.18,483.02 L220.53,481.49 L220.87,480.00 L221.20,478.50 L221.52,477.06 L221.81,475.68 L222.13,474.21 L222.50,472.50 L222.95,470.45 L223.46,468.16 L223.98,465.79 L224.50,463.50 L225.02,461.33 L225.54,459.19 L226.05,457.08 L226.50,455.00 L226.87,452.96 L227.19,450.94 L227.48,448.96 L227.80,447.00 L228.15,445.06 L228.51,443.13 L228.87,441.24 L229.20,439.40 L229.50,437.57 L229.78,435.76 L230.05,434.04 L230.30,432.50 L230.53,431.16 L230.74,429.98 L230.95,428.93 L231.20,428.00 L231.49,427.26 L231.82,426.69 L232.16,426.16 L232.50,425.50 L232.85,424.80 L233.20,424.10 L233.55,423.20 L233.90,421.90 L234.23,420.04 L234.55,417.77 L234.87,415.34 L235.20,413.00 L235.55,410.58 L235.91,408.02 L236.26,405.77 L236.60,404.30 L236.91,403.88 L237.19,404.21 L237.48,404.89 L237.80,405.50 L238.15,406.12 L238.53,406.90 L238.92,407.56 L239.30,407.80 L239.68,407.41 L240.06,406.59 L240.43,405.68 L240.80,405.00 L241.16,404.63 L241.52,404.41 L241.87,404.28 L242.20,404.20 L242.53,404.03 L242.85,403.83 L243.15,403.89 L243.40,404.50 L243.59,405.93 L243.74,407.96 L243.86,410.13 L244.00,412.00 L244.15,413.43 L244.29,414.66 L244.44,415.82 L244.60,417.00 L244.79,418.16 L245.00,419.26 L245.21,420.45 L245.40,421.90 L245.56,423.75 L245.71,425.88 L245.85,428.05 L246.00,430.00 L246.17,431.65 L246.34,433.12 L246.52,434.54 L246.70,436.00 L246.88,437.45 L247.05,438.87 L247.22,440.38 L247.40,442.10 L247.58,444.14 L247.76,446.39 L247.93,448.73 L248.10,451.00 L248.25,453.07 L248.39,455.05 L248.54,457.15 L248.70,459.60 L248.89,462.63 L249.09,466.06 L249.30,469.48 L249.50,472.50 L249.68,474.96 L249.86,477.08 L250.03,479.04 L250.20,481.00 L250.35,482.97 L250.48,484.87 L250.62,486.74 L250.80,488.60 L251.02,490.50 L251.28,492.40 L251.54,494.25 L251.80,496.00 L252.04,497.63 L252.27,499.16 L252.51,500.62 L252.80,502.00 L253.13,503.32 L253.50,504.56 L253.89,505.73 L254.30,506.80 L254.71,507.78 L255.14,508.67 L255.60,509.47 L256.10,510.20 L256.64,510.84 L257.23,511.39 L257.84,511.87 L258.50,512.30 L259.17,512.67 L259.87,512.98 L260.63,513.25 L261.50,513.50 L262.41,513.74 L263.38,513.94 L264.52,514.13 L266.00,514.30 L266.84,514.46 L267.29,514.59 L269.35,514.71 L275.00,514.80 L286.97,514.86 L303.46,514.88 L319.68,514.89 L330.80,514.90" fill="none" stroke="#000" stroke-width="1.875" stroke-linejoin="round" stroke-linecap="round"/>
</g>
<rect x="0.00" y="0.00" width="520.00" height="1.50" fill="#000" stroke="none" stroke-width="1"/>
<rect x="0.00" y="0.00" width="1.50" height="577.00" fill="#000" stroke="none" stroke-width="1"/>
<rect x="518.50" y="0.00" width="1.50" height="577.00" fill="#000" stroke="none" stroke-width="1"/>
<rect x="0.00" y="575.10" width="520.00" height="1.90" fill="#000" stroke="none" stroke-width="1"/>
</g></svg>
</body></html>
